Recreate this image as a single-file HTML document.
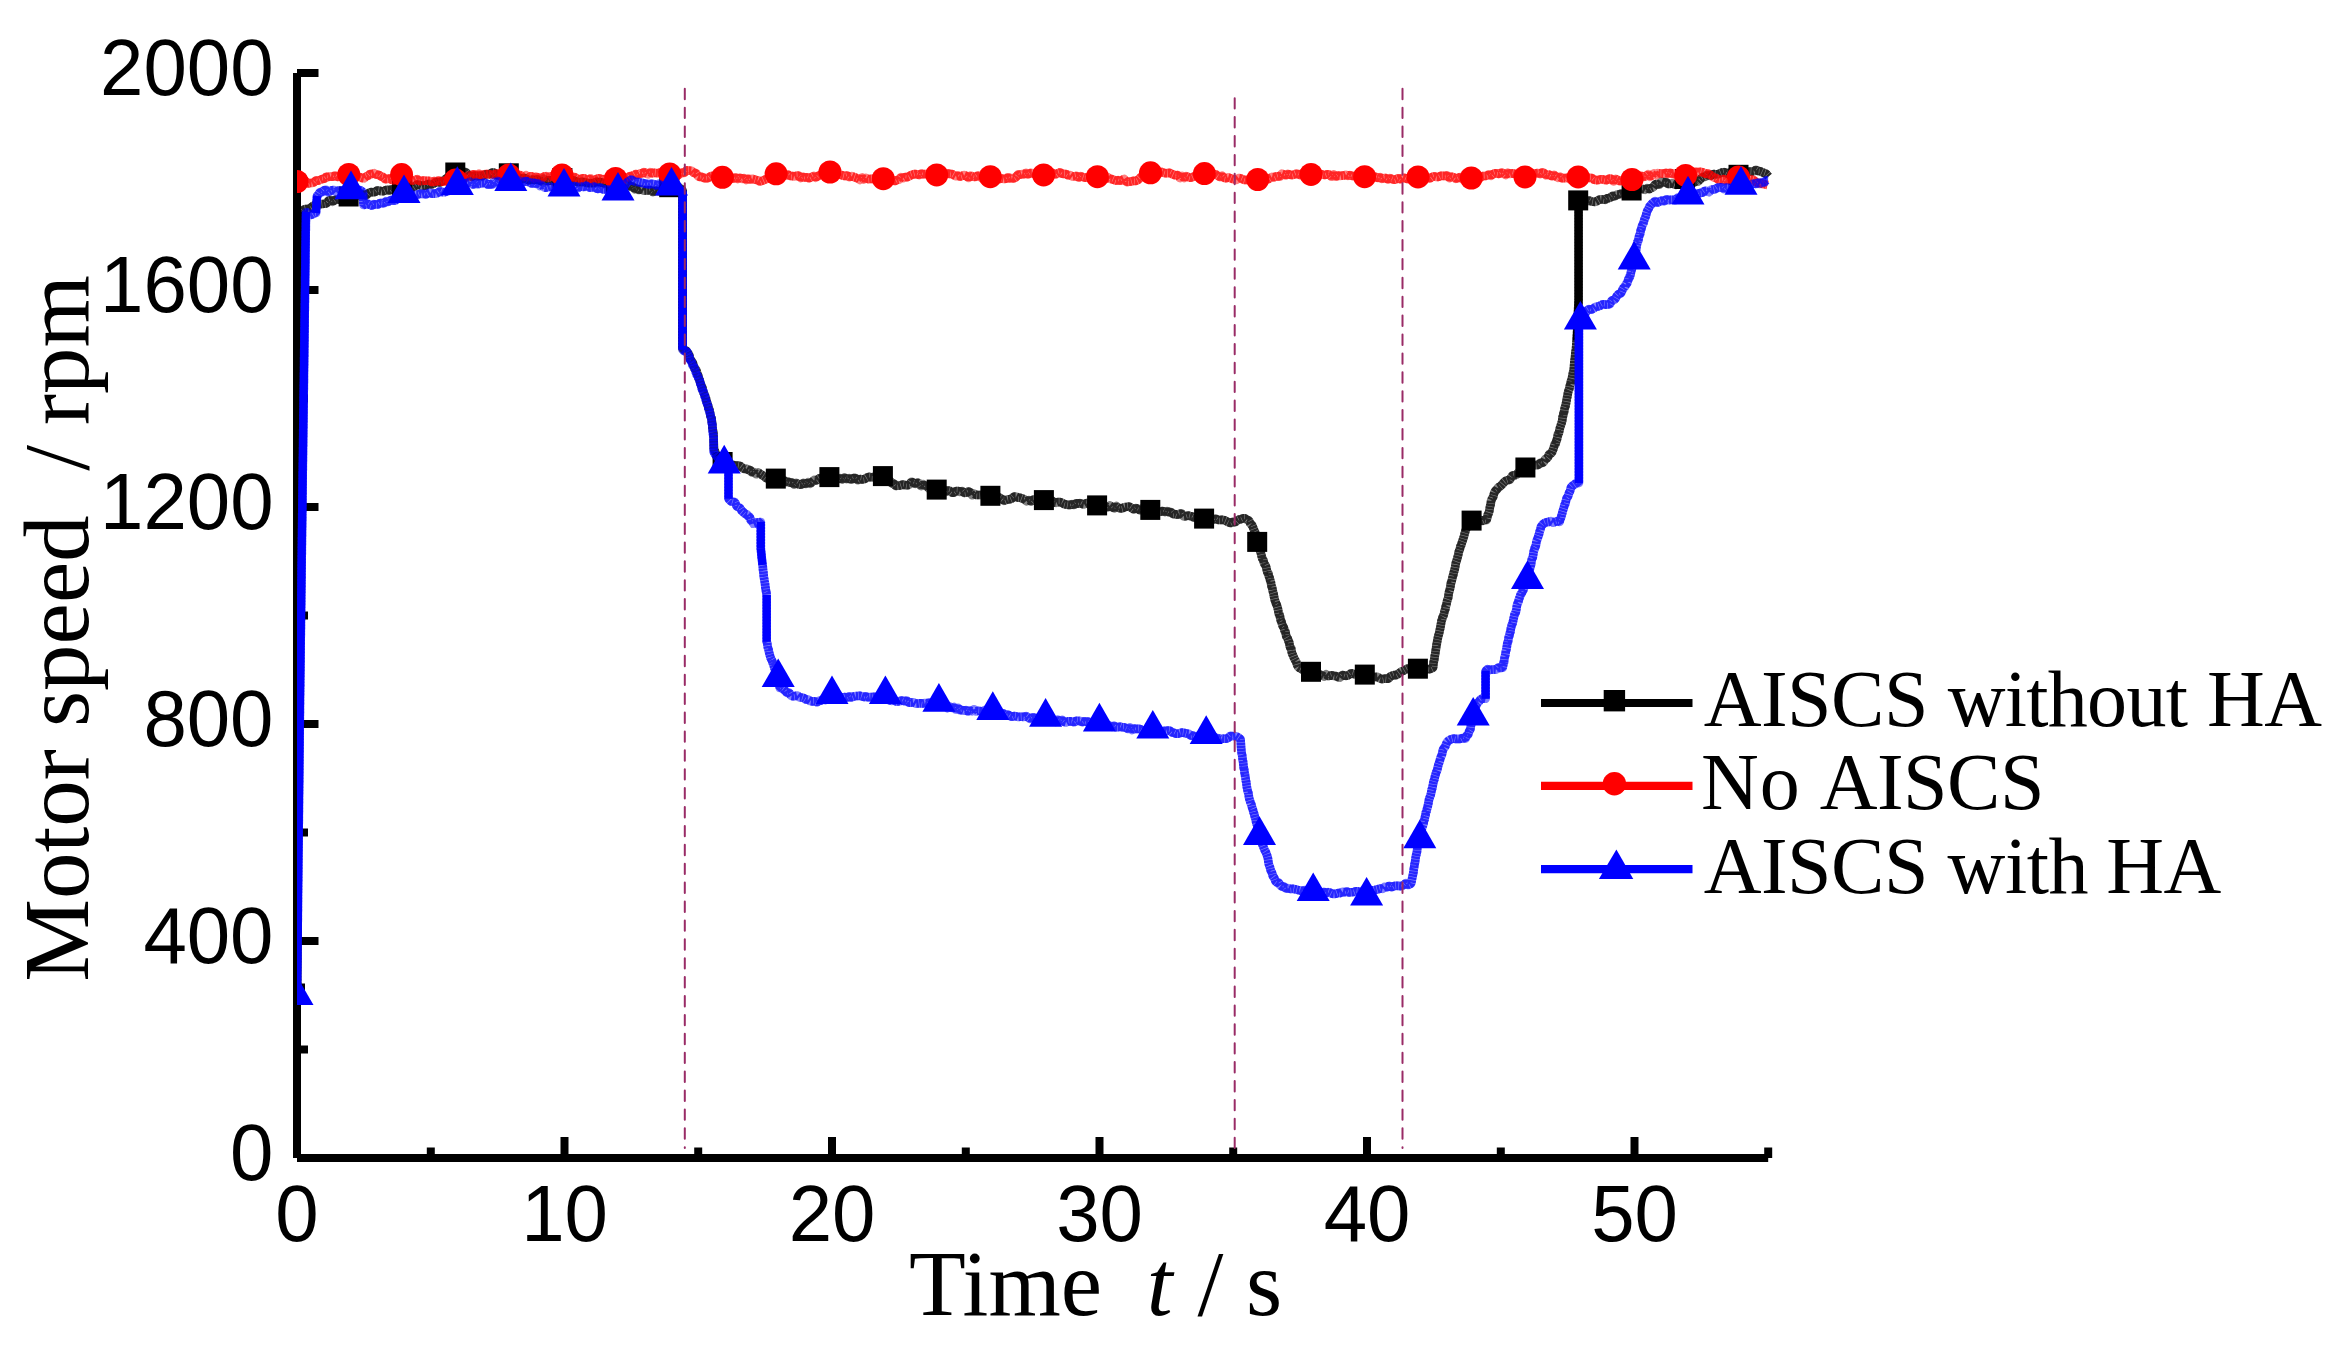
<!DOCTYPE html>
<html lang="en"><head><meta charset="utf-8"><title>Motor speed vs time</title>
<style>
html,body{margin:0;padding:0;background:#fff;}
body{width:2340px;height:1352px;overflow:hidden;}
svg{display:block;}
.tk{font-family:"Liberation Sans",sans-serif;font-size:78px;fill:#000;}
.ax{font-family:"Liberation Serif",serif;font-size:93px;fill:#000;white-space:pre;}
.lg{font-family:"Liberation Serif",serif;font-size:80px;fill:#000;}
</style></head><body>
<svg width="2340" height="1352" viewBox="0 0 2340 1352">
<rect x="0" y="0" width="2340" height="1352" fill="#fff"/>
<defs><clipPath id="plot"><rect x="297" y="60" width="1480" height="1098"/></clipPath></defs>
<g stroke="#000" stroke-width="8" fill="none" stroke-linecap="butt">
<line x1="297" y1="73.0" x2="297" y2="1158"/>
<line x1="297" y1="1158" x2="1768.2" y2="1158"/>
<line x1="297" y1="1049.5" x2="308" y2="1049.5"/>
<line x1="297" y1="941.0" x2="318.5" y2="941.0"/>
<line x1="297" y1="832.5" x2="308" y2="832.5"/>
<line x1="297" y1="724.0" x2="318.5" y2="724.0"/>
<line x1="297" y1="615.5" x2="308" y2="615.5"/>
<line x1="297" y1="507.0" x2="318.5" y2="507.0"/>
<line x1="297" y1="398.5" x2="308" y2="398.5"/>
<line x1="297" y1="290.0" x2="318.5" y2="290.0"/>
<line x1="297" y1="181.5" x2="308" y2="181.5"/>
<line x1="297" y1="73.0" x2="318.5" y2="73.0"/>
<line x1="430.8" y1="1158" x2="430.8" y2="1147.5"/>
<line x1="564.5" y1="1158" x2="564.5" y2="1137"/>
<line x1="698.2" y1="1158" x2="698.2" y2="1147.5"/>
<line x1="832.0" y1="1158" x2="832.0" y2="1137"/>
<line x1="965.8" y1="1158" x2="965.8" y2="1147.5"/>
<line x1="1099.5" y1="1158" x2="1099.5" y2="1137"/>
<line x1="1233.2" y1="1158" x2="1233.2" y2="1147.5"/>
<line x1="1367.0" y1="1158" x2="1367.0" y2="1137"/>
<line x1="1500.8" y1="1158" x2="1500.8" y2="1147.5"/>
<line x1="1634.5" y1="1158" x2="1634.5" y2="1137"/>
<line x1="1768.2" y1="1158" x2="1768.2" y2="1147.5"/>
</g>
<g clip-path="url(#plot)">
<polyline fill="none" stroke="#000" stroke-opacity="0.5" stroke-width="8.6" stroke-linejoin="round" points="297.0,993.0 297.0,991.0 297.0,989.0 297.0,987.0 297.0,985.0 297.1,983.0 297.1,981.0 297.1,979.0 297.1,976.9 297.1,974.9 297.1,972.9 297.1,970.9 297.1,968.9 297.1,966.9 297.1,964.9 297.2,962.9 297.2,960.9 297.2,958.9 297.2,956.9 297.2,954.9 297.2,952.9 297.2,950.9 297.2,948.8 297.2,946.8 297.2,944.8 297.3,942.8 297.3,940.8 297.3,938.8 297.3,936.8 297.3,934.8 297.3,932.8 297.3,930.8 297.3,928.8 297.3,926.8 297.3,924.8 297.4,922.8 297.4,920.8 297.4,918.7 297.4,916.7 297.4,914.7 297.4,912.7 297.4,910.7 297.4,908.7 297.4,906.7 297.5,904.7 297.5,902.7 297.5,900.7 297.5,898.7 297.5,896.7 297.5,894.7 297.5,892.7 297.5,890.7 297.5,888.6 297.5,886.6 297.6,884.6 297.6,882.6 297.6,880.6 297.6,878.6 297.6,876.6 297.6,874.6 297.6,872.6 297.6,870.6 297.6,868.6 297.6,866.6 297.7,864.6 297.7,862.6 297.7,860.5 297.7,858.5 297.7,856.5 297.7,854.5 297.7,852.5 297.7,850.5 297.7,848.5 297.8,846.5 297.8,844.5 297.8,842.5 297.8,840.5 297.8,838.5 297.8,836.5 297.8,834.5 297.8,832.5 297.8,830.4 297.8,828.4 297.9,826.4 297.9,824.4 297.9,822.4 297.9,820.4 297.9,818.4 297.9,816.4 297.9,814.4 297.9,812.4 297.9,810.4 297.9,808.4 298.0,806.4 298.0,804.4 298.0,802.3 298.0,800.3 298.0,798.3 298.0,796.3 298.0,794.3 298.0,792.3 298.0,790.3 298.0,788.3 298.1,786.3 298.1,784.3 298.1,782.3 298.1,780.3 298.1,778.3 298.1,776.3 298.1,774.3 298.1,772.2 298.1,770.2 298.2,768.2 298.2,766.2 298.2,764.2 298.2,762.2 298.2,760.2 298.2,758.2 298.2,756.2 298.2,754.2 298.2,752.2 298.2,750.2 298.3,748.2 298.3,746.2 298.3,744.2 298.3,742.1 298.3,740.1 298.3,738.1 298.3,736.1 298.3,734.1 298.3,732.1 298.3,730.1 298.4,728.1 298.4,726.1 298.4,724.1 298.4,722.1 298.4,720.1 298.4,718.1 298.4,716.1 298.4,714.0 298.4,712.0 298.4,710.0 298.5,708.0 298.5,706.0 298.5,704.0 298.5,702.0 298.5,700.0 298.5,698.0 298.5,696.0 298.5,694.0 298.5,692.0 298.6,690.0 298.6,688.0 298.6,686.0 298.6,684.0 298.6,682.0 298.6,680.0 298.6,678.0 298.6,676.0 298.6,674.0 298.6,672.0 298.6,670.0 298.7,668.0 298.7,666.0 298.7,664.0 298.7,662.0 298.7,660.0 298.7,658.0 298.7,656.0 298.7,654.0 298.7,652.0 298.8,650.0 298.8,648.0 298.8,646.0 298.8,644.0 298.8,642.0 298.8,640.0 298.8,638.0 298.8,636.0 298.8,634.0 298.8,632.0 298.9,630.0 298.9,628.0 298.9,626.0 298.9,624.0 298.9,622.0 298.9,620.0 298.9,618.0 298.9,616.0 298.9,614.0 298.9,612.0 298.9,610.0 299.0,608.0 299.0,606.0 299.0,604.0 299.0,602.0 299.0,600.0 299.0,598.0 299.0,596.0 299.0,594.0 299.0,592.0 299.1,590.0 299.1,588.0 299.1,586.0 299.1,584.0 299.1,582.0 299.1,580.0 299.1,578.0 299.1,576.0 299.1,574.0 299.1,572.0 299.1,570.0 299.2,568.0 299.2,566.0 299.2,564.0 299.2,562.0 299.2,560.0 299.2,558.0 299.2,556.0 299.2,554.0 299.2,552.0 299.2,550.0 299.3,548.0 299.3,546.0 299.3,544.0 299.3,542.0 299.3,540.0 299.3,538.0 299.3,536.0 299.3,534.0 299.3,532.0 299.4,530.0 299.4,528.0 299.4,526.0 299.4,524.0 299.4,522.0 299.4,520.0 299.4,518.0 299.4,516.0 299.4,514.0 299.4,512.0 299.4,510.0 299.5,508.0 299.5,506.0 299.5,504.0 299.5,502.0 299.5,500.0 299.5,498.0 299.5,496.0 299.5,494.0 299.5,492.0 299.6,490.0 299.6,488.0 299.6,486.0 299.6,484.0 299.6,482.0 299.6,480.0 299.6,478.0 299.6,476.0 299.6,474.0 299.6,472.0 299.6,470.0 299.7,468.0 299.7,466.0 299.7,464.0 299.7,462.0 299.7,460.0 299.7,458.0 299.7,456.0 299.7,454.0 299.7,452.0 299.8,450.0 299.8,448.0 299.8,446.0 299.8,444.0 299.8,442.0 299.8,440.0 299.8,438.0 299.8,436.0 299.8,434.0 299.8,432.0 299.9,430.0 299.9,428.0 299.9,426.0 299.9,424.0 299.9,422.0 299.9,420.0 299.9,418.0 299.9,416.0 299.9,414.0 299.9,412.0 299.9,410.0 300.0,408.0 300.0,406.0 300.0,404.0 300.0,402.0 300.0,400.0 300.0,398.0 300.0,396.0 300.1,394.0 300.1,392.0 300.1,390.0 300.1,388.0 300.1,386.0 300.1,384.0 300.2,382.0 300.2,380.0 300.2,378.0 300.2,376.0 300.2,374.0 300.2,372.0 300.3,370.0 300.3,368.0 300.3,366.0 300.3,364.0 300.3,362.0 300.4,360.0 300.4,358.0 300.4,356.0 300.4,354.0 300.4,352.0 300.4,350.0 300.5,348.0 300.5,346.0 300.5,344.0 300.5,342.0 300.5,340.0 300.6,338.0 300.6,336.0 300.6,334.0 300.6,332.0 300.6,330.0 300.6,328.0 300.7,326.0 300.7,324.0 300.7,322.0 300.7,320.0 300.7,318.0 300.8,316.0 300.8,314.0 300.8,312.0 300.8,310.0 300.8,308.0 300.8,306.0 300.9,304.0 300.9,302.0 300.9,300.0 300.9,298.0 300.9,296.0 300.9,294.0 301.0,292.0 301.0,290.0 301.0,288.0 301.0,286.0 301.0,284.0 301.1,282.0 301.1,280.0 301.1,278.0 301.1,276.0 301.1,274.0 301.1,272.0 301.2,270.0 301.2,268.0 301.2,266.0 301.2,264.0 301.2,262.0 301.2,260.0 301.3,258.0 301.3,256.0 301.3,254.0 301.3,252.0 301.3,250.0 301.4,248.0 301.4,246.0 301.4,244.0 301.4,242.0 301.4,240.0 301.4,238.0 301.5,236.0 301.5,234.0 301.5,232.0 301.6,230.0 301.6,228.0 301.6,226.0 301.7,224.0 301.8,222.0 301.8,220.0 301.9,218.0 301.9,216.0 301.9,214.0 302.0,212.0 304.0,209.4 306.0,209.0 308.3,209.0 310.7,207.8 313.0,206.0 315.2,204.8 317.5,205.0 319.8,204.3 322.0,204.0 324.2,203.8 326.3,203.5 328.5,200.8 330.7,199.9 332.8,201.7 335.0,200.0 337.3,199.3 339.5,199.8 341.8,197.0 344.1,197.8 346.3,198.2 348.6,197.0 350.8,195.9 353.1,197.7 355.3,197.2 357.5,194.3 359.8,193.9 362.0,195.0 364.2,194.6 366.3,195.3 368.5,193.1 370.7,192.1 372.8,192.3 375.0,192.0 377.1,190.4 379.3,190.7 381.4,191.2 383.6,191.1 385.7,190.1 387.9,189.9 390.0,190.5 392.0,189.2 394.0,189.5 396.0,188.6 398.0,187.4 400.0,189.4 402.0,188.0 404.2,187.8 406.3,187.8 408.5,186.1 410.7,188.1 412.8,187.4 415.0,186.0 417.1,184.6 419.3,184.9 421.4,185.8 423.6,185.5 425.7,185.9 427.9,184.1 430.0,184.0 432.0,184.5 434.0,183.5 436.0,181.9 438.0,182.3 440.0,182.6 442.0,181.0 444.0,180.8 446.0,178.5 448.0,177.5 450.0,176.0 451.8,173.6 453.5,173.2 455.3,173.0 457.4,173.7 459.6,172.3 461.7,171.4 463.9,172.3 466.0,172.0 468.0,174.6 470.0,176.0 472.0,176.5 474.0,175.6 476.0,175.8 478.0,176.0 480.0,175.7 482.0,176.2 484.0,175.1 486.0,174.3 488.0,174.3 490.0,174.0 492.0,172.6 494.0,172.6 496.0,174.6 498.0,175.4 500.0,174.0 502.2,174.3 504.4,173.7 506.6,173.0 508.8,174.0 511.0,174.8 513.3,177.0 515.5,177.2 517.8,177.3 520.0,178.0 522.1,179.4 524.3,177.8 526.4,178.9 528.6,180.5 530.7,179.7 532.9,179.6 535.0,180.0 537.1,179.3 539.3,180.1 541.4,181.4 543.6,178.5 545.7,180.9 547.9,181.0 550.0,180.0 552.1,181.0 554.1,180.4 556.2,180.4 558.3,179.4 560.3,179.4 562.4,179.0 564.6,179.2 566.9,178.5 569.1,181.4 571.3,180.9 573.5,180.2 575.8,181.6 578.0,182.0 580.0,182.1 582.0,181.9 584.0,182.0 586.0,182.7 588.0,183.1 590.0,183.2 592.0,183.0 594.2,182.9 596.3,181.6 598.5,182.2 600.7,182.0 602.8,183.3 605.0,183.0 607.2,184.2 609.3,184.1 611.5,184.2 613.6,184.3 615.8,183.5 618.1,183.1 620.4,185.3 622.7,185.1 625.0,185.0 627.0,184.4 629.0,184.9 631.0,187.0 633.0,186.3 635.0,189.3 637.0,188.5 639.0,190.0 641.3,189.0 643.7,190.7 646.0,190.5 648.3,190.5 650.7,190.2 653.0,192.0 655.3,190.6 657.7,191.4 660.0,191.0 662.3,189.4 664.6,189.1 666.9,189.8 669.2,188.5 671.4,188.3 673.5,187.8 675.7,188.1 677.8,186.7 680.0,188.0 682.5,190.0 682.5,192.0 682.5,194.0 682.5,196.0 682.5,198.1 682.5,200.1 682.5,202.1 682.5,204.1 682.5,206.1 682.5,208.1 682.5,210.1 682.5,212.1 682.5,214.2 682.5,216.2 682.5,218.2 682.5,220.2 682.5,222.2 682.5,224.2 682.5,226.2 682.5,228.2 682.5,230.3 682.5,232.3 682.5,234.3 682.5,236.3 682.5,238.3 682.5,240.3 682.5,242.3 682.5,244.3 682.5,246.4 682.5,248.4 682.5,250.4 682.5,252.4 682.5,254.4 682.5,256.4 682.5,258.4 682.5,260.4 682.5,262.5 682.5,264.5 682.5,266.5 682.5,268.5 682.5,270.5 682.5,272.5 682.5,274.5 682.5,276.5 682.5,278.6 682.5,280.6 682.5,282.6 682.5,284.6 682.5,286.6 682.5,288.6 682.5,290.6 682.5,292.6 682.5,294.7 682.5,296.7 682.5,298.7 682.5,300.7 682.5,302.7 682.5,304.7 682.5,306.7 682.5,308.7 682.5,310.8 682.5,312.8 682.5,314.8 682.5,316.8 682.5,318.8 682.5,320.8 682.5,322.8 682.5,324.8 682.5,326.9 682.5,328.9 682.5,330.9 682.5,332.9 682.5,334.9 682.5,336.9 682.5,338.9 682.5,340.9 682.5,343.0 682.5,345.0 682.5,347.0 682.5,349.0 684.5,349.7 686.6,351.0 687.5,352.6 688.4,353.7 689.3,355.3 690.2,359.5 691.1,360.2 692.0,362.0 692.9,363.2 693.8,366.5 694.8,369.3 695.7,369.0 696.6,371.1 697.5,374.6 698.2,375.5 698.9,379.2 699.6,379.5 700.3,383.1 701.0,385.0 701.7,386.6 702.4,387.6 703.1,391.8 703.8,393.2 704.5,394.4 705.2,396.3 705.8,397.4 706.3,400.7 706.9,401.9 707.5,404.4 708.1,405.6 708.6,408.5 709.2,408.8 709.8,411.5 710.4,415.5 710.9,417.2 711.5,418.0 711.7,419.5 712.0,423.2 712.2,423.7 712.4,427.6 712.7,429.1 712.9,430.2 713.1,431.8 713.4,433.1 713.6,436.7 713.7,440.1 713.7,439.7 713.8,444.3 713.9,447.0 713.9,448.0 714.0,450.0 715.0,451.0 716.0,455.1 717.0,457.4 718.0,458.0 719.5,459.9 721.1,460.7 722.6,462.0 724.7,462.2 726.8,462.7 728.8,462.9 730.9,464.9 733.0,465.0 735.4,465.5 737.8,465.5 740.1,465.9 742.5,467.8 744.4,469.0 746.3,468.6 748.2,469.9 750.2,470.1 752.1,472.4 754.0,472.0 756.1,474.1 758.1,472.4 760.2,473.8 762.2,475.1 764.3,476.5 766.6,478.4 768.9,478.2 771.2,477.3 773.5,477.3 775.8,478.6 777.8,479.6 779.9,480.6 781.9,481.3 783.9,480.1 786.0,482.2 788.0,481.5 790.1,482.6 792.2,482.5 794.2,484.6 796.3,482.9 798.4,484.2 800.9,484.8 803.5,482.8 806.0,484.0 808.1,482.2 810.3,483.7 812.4,481.7 814.3,479.9 816.2,480.6 818.1,479.2 820.0,478.0 822.4,478.8 824.7,477.2 827.0,476.8 829.4,477.1 831.5,476.7 833.6,478.6 835.8,478.0 837.9,479.2 840.0,478.0 842.2,479.5 844.5,477.5 846.7,479.1 849.0,478.1 851.2,479.6 853.4,478.1 855.6,478.0 857.8,480.2 860.0,479.0 862.3,479.4 864.5,479.1 866.8,477.7 868.8,476.8 870.9,477.2 873.0,477.3 875.0,476.0 877.6,475.7 880.3,476.3 882.9,476.1 884.7,476.5 886.5,477.3 888.2,479.1 890.0,481.0 892.0,483.4 893.9,483.6 895.8,485.9 897.8,485.8 900.2,485.4 902.6,484.6 905.0,485.0 907.1,485.3 909.2,484.8 911.3,481.8 913.4,482.7 915.3,483.8 917.3,482.6 919.2,483.2 921.1,486.1 923.1,484.1 925.0,486.0 927.0,485.8 928.9,488.7 930.9,487.6 932.8,487.2 934.8,488.0 936.7,489.6 938.9,489.1 941.1,490.8 943.4,489.1 945.6,491.8 947.8,490.4 950.0,491.0 952.0,492.6 954.0,492.6 956.1,491.0 958.1,491.1 960.1,491.9 962.2,491.0 964.2,492.9 966.2,492.6 968.2,491.6 970.1,491.9 972.1,495.2 974.1,493.6 976.0,494.9 978.0,495.0 980.1,495.0 982.1,494.7 984.2,494.1 986.3,496.8 988.3,497.1 990.4,495.8 992.8,497.8 995.2,495.7 997.6,496.6 1000.0,498.0 1002.0,499.0 1004.0,500.8 1006.0,500.0 1008.0,499.4 1010.0,499.2 1012.0,498.4 1014.0,496.5 1016.0,496.5 1018.1,497.6 1020.2,497.8 1022.3,498.6 1024.4,499.1 1026.5,501.3 1028.8,500.0 1031.0,501.6 1033.3,499.5 1035.4,499.5 1037.5,500.2 1039.7,500.3 1041.8,501.3 1043.9,500.1 1045.9,500.0 1047.9,500.1 1049.9,500.4 1052.0,500.6 1054.0,502.5 1056.0,502.9 1058.0,502.0 1060.0,502.0 1062.0,502.8 1064.0,504.0 1066.0,504.5 1068.0,504.9 1070.0,505.0 1072.0,504.1 1074.0,505.0 1076.0,503.3 1078.0,503.7 1080.0,503.0 1082.0,504.0 1084.2,504.4 1086.3,503.1 1088.5,503.3 1090.6,505.2 1092.8,504.4 1094.9,506.1 1097.1,505.4 1099.2,505.6 1101.4,506.9 1103.5,505.0 1105.6,506.3 1107.7,507.4 1109.9,505.5 1112.0,507.0 1114.2,508.3 1116.3,506.0 1118.5,507.8 1120.7,508.5 1122.8,508.0 1125.0,507.0 1127.2,506.8 1129.3,506.5 1131.5,508.0 1133.7,509.6 1135.8,508.0 1138.0,509.0 1140.0,510.3 1142.1,508.2 1144.2,510.7 1146.2,508.2 1148.2,509.2 1150.3,509.9 1152.4,511.3 1154.5,511.2 1156.7,511.7 1158.8,511.7 1160.9,511.6 1163.0,511.0 1165.0,512.1 1167.0,511.0 1169.0,512.3 1171.0,512.0 1173.0,514.1 1175.0,514.0 1177.2,514.8 1179.3,513.8 1181.5,513.4 1183.7,516.4 1185.8,516.2 1188.0,515.5 1190.0,516.0 1192.0,516.4 1194.0,517.7 1196.0,516.9 1198.1,517.1 1200.1,517.3 1202.1,517.5 1204.1,518.6 1206.4,517.4 1208.7,519.5 1211.0,519.1 1213.4,519.7 1215.7,518.5 1218.0,520.0 1220.0,520.0 1222.0,519.7 1224.0,520.1 1226.0,520.9 1228.0,522.0 1230.4,523.1 1232.7,521.9 1235.1,522.3 1237.0,520.6 1239.0,519.5 1241.0,519.2 1242.9,518.3 1245.0,518.4 1247.0,520.0 1248.7,520.3 1250.5,523.7 1252.2,525.4 1253.1,527.6 1254.1,530.2 1255.0,532.0 1255.4,533.8 1255.9,536.5 1256.3,538.6 1256.8,539.1 1257.2,541.9 1257.9,543.9 1258.5,545.9 1259.2,547.1 1259.8,549.7 1260.5,552.0 1261.2,554.2 1261.9,557.3 1262.5,559.4 1263.2,559.5 1263.9,562.7 1264.6,564.3 1265.3,564.9 1266.1,566.8 1266.8,570.1 1267.5,573.1 1268.2,572.8 1269.0,576.6 1269.7,577.7 1270.2,580.8 1270.7,581.1 1271.2,584.2 1271.6,586.7 1272.1,587.2 1272.6,590.2 1273.1,592.3 1273.6,593.9 1274.0,596.6 1274.5,598.7 1275.0,600.9 1275.5,601.5 1276.1,603.8 1276.7,604.7 1277.3,607.0 1277.9,608.9 1278.5,612.1 1279.1,614.7 1279.7,614.7 1280.3,618.6 1280.9,620.8 1281.5,621.8 1282.1,624.3 1282.9,626.4 1283.8,627.4 1284.6,631.2 1285.4,631.2 1286.2,636.1 1287.1,637.7 1287.9,638.8 1288.5,641.2 1289.2,642.2 1289.8,646.2 1290.5,648.4 1291.1,648.0 1291.7,652.0 1292.4,654.3 1293.0,655.3 1294.0,657.9 1295.1,660.1 1296.1,661.4 1297.1,664.9 1298.2,667.1 1299.2,667.8 1301.6,669.0 1304.0,671.0 1306.3,672.2 1308.7,671.3 1311.0,671.8 1313.2,671.4 1315.4,672.6 1317.6,672.6 1319.8,675.6 1322.0,675.0 1324.0,676.6 1326.0,674.4 1328.0,676.1 1330.0,675.8 1332.0,675.2 1334.0,676.0 1336.0,676.1 1338.0,677.1 1340.0,677.6 1342.0,675.1 1344.0,675.3 1346.0,676.0 1348.5,675.1 1351.1,673.2 1353.6,674.0 1355.8,674.5 1358.1,674.6 1360.3,675.4 1362.6,673.6 1364.8,674.6 1366.8,674.4 1368.9,675.7 1370.9,675.4 1373.0,676.8 1375.0,677.0 1377.4,676.7 1379.8,678.4 1382.2,679.1 1384.6,678.6 1386.5,678.8 1388.4,678.6 1390.2,676.6 1392.1,675.7 1394.0,675.0 1395.9,675.2 1397.7,674.2 1399.6,672.8 1401.4,671.4 1403.3,670.9 1405.5,669.6 1407.8,668.5 1410.0,669.0 1412.6,669.8 1415.3,667.7 1417.9,668.7 1420.2,669.5 1422.5,669.0 1424.7,670.3 1427.0,669.0 1429.9,669.2 1432.8,667.8 1433.2,667.1 1433.5,662.4 1433.9,661.4 1434.3,659.5 1434.6,656.6 1435.0,655.0 1435.4,652.8 1435.7,650.2 1436.1,648.6 1436.4,644.8 1436.8,644.0 1437.1,641.8 1437.5,639.8 1438.0,637.2 1438.4,635.5 1438.8,634.7 1439.3,632.4 1439.8,629.9 1440.2,628.4 1440.7,625.6 1441.1,623.1 1441.5,620.5 1442.0,620.0 1442.5,617.4 1443.1,616.4 1443.6,615.3 1444.1,613.2 1444.7,610.3 1445.2,609.8 1445.7,606.3 1446.3,605.4 1446.8,602.5 1447.3,600.2 1447.7,599.1 1448.2,597.8 1448.7,593.7 1449.2,591.3 1449.6,590.6 1450.1,588.2 1450.6,585.7 1451.0,582.6 1451.5,582.0 1452.0,579.7 1452.4,577.8 1452.9,575.7 1453.3,575.1 1453.8,572.3 1454.3,570.8 1454.7,569.3 1455.2,566.8 1455.6,564.1 1456.1,562.1 1456.6,560.8 1457.2,558.5 1457.8,556.5 1458.3,554.4 1458.8,551.8 1459.4,550.4 1460.0,548.4 1460.5,546.0 1461.2,545.2 1461.9,542.6 1462.6,540.7 1463.3,538.3 1464.0,536.3 1464.7,533.5 1465.4,531.1 1466.4,528.3 1467.5,525.7 1468.5,524.0 1470.0,522.9 1471.6,520.6 1473.7,521.6 1475.8,520.4 1477.9,519.1 1480.0,520.0 1482.2,521.0 1484.4,520.0 1486.6,520.0 1487.2,517.9 1487.8,514.6 1488.4,514.0 1489.0,512.0 1489.4,510.7 1489.8,507.8 1490.2,505.6 1490.7,504.5 1491.1,500.6 1491.5,500.0 1492.2,498.1 1493.0,497.5 1493.7,494.9 1494.4,492.4 1495.6,490.5 1496.8,489.7 1498.0,487.5 1500.0,486.4 1502.1,484.6 1504.1,482.2 1506.0,480.7 1508.0,480.0 1509.7,480.0 1511.3,477.0 1512.9,475.2 1514.6,475.3 1516.4,474.9 1518.2,472.5 1520.0,471.0 1521.8,469.4 1523.6,468.7 1525.4,467.5 1527.6,467.6 1529.7,465.3 1531.8,466.1 1534.0,465.0 1536.1,465.1 1538.2,464.9 1540.4,462.7 1542.5,462.9 1543.9,461.8 1545.2,459.1 1546.6,458.7 1548.0,457.0 1549.3,454.0 1550.7,453.8 1552.1,452.0 1553.4,448.9 1554.1,446.4 1554.8,444.1 1555.5,444.3 1556.1,441.6 1556.8,440.0 1557.5,437.0 1558.1,433.4 1558.7,433.9 1559.3,430.9 1560.0,427.8 1560.6,426.0 1561.2,424.1 1561.7,422.7 1562.2,420.7 1562.6,416.8 1563.1,415.9 1563.6,412.4 1564.0,412.7 1564.5,409.0 1565.0,407.0 1565.5,406.1 1566.0,403.4 1566.5,400.9 1567.0,397.7 1567.4,396.4 1567.9,393.1 1568.4,391.0 1568.9,389.9 1569.4,388.5 1569.9,385.3 1570.5,384.4 1571.0,380.8 1571.5,380.2 1572.0,378.1 1572.6,374.8 1573.1,372.1 1573.6,371.2 1573.8,368.8 1574.0,367.0 1574.2,363.8 1574.4,362.0 1574.6,359.5 1574.8,359.1 1575.0,357.9 1575.3,353.8 1575.5,351.2 1575.7,351.1 1575.9,349.4 1576.1,347.8 1576.3,344.7 1576.5,341.8 1576.7,340.2 1576.8,338.2 1576.9,336.2 1577.0,334.2 1577.1,332.2 1577.2,330.1 1577.3,328.1 1577.4,326.1 1577.5,324.1 1577.6,322.1 1577.7,320.1 1577.7,318.1 1577.8,316.1 1577.9,314.1 1578.0,312.1 1578.1,310.1 1578.2,308.0 1578.3,306.0 1578.4,304.0 1578.5,302.0 1578.6,300.0 1578.6,298.0 1578.6,295.9 1578.6,293.9 1578.6,291.9 1578.6,289.8 1578.6,287.8 1578.6,285.8 1578.6,283.7 1578.6,281.7 1578.6,279.7 1578.6,277.6 1578.6,275.6 1578.6,273.6 1578.6,271.5 1578.6,269.5 1578.6,267.5 1578.6,265.4 1578.6,263.4 1578.6,261.4 1578.6,259.3 1578.6,257.3 1578.6,255.3 1578.6,253.2 1578.6,251.2 1578.6,249.2 1578.6,247.2 1578.6,245.1 1578.6,243.1 1578.6,241.1 1578.6,239.0 1578.6,237.0 1578.6,235.0 1578.6,232.9 1578.6,230.9 1578.6,228.9 1578.6,226.8 1578.6,224.8 1578.6,222.8 1578.6,220.7 1578.6,218.7 1578.6,216.7 1578.6,214.6 1578.6,212.6 1578.6,210.6 1578.6,208.5 1578.6,206.5 1578.6,204.5 1578.6,202.4 1578.6,200.4 1580.7,201.7 1582.8,199.8 1584.9,201.8 1587.0,201.5 1589.1,200.4 1591.2,201.4 1593.2,201.8 1595.3,201.9 1597.2,200.9 1599.2,199.7 1601.1,199.3 1603.0,199.5 1605.0,199.9 1607.0,198.3 1608.9,198.1 1610.9,197.3 1612.9,195.7 1614.9,196.4 1617.0,194.5 1619.0,194.5 1621.0,193.5 1623.1,194.2 1625.2,194.0 1627.4,190.6 1629.5,192.4 1631.6,191.0 1633.9,191.6 1636.3,189.5 1638.7,189.1 1641.0,189.0 1643.0,189.0 1645.1,189.9 1647.1,188.1 1649.2,189.3 1651.2,188.0 1653.1,187.4 1655.1,184.3 1657.0,184.0 1659.2,184.7 1661.5,181.5 1663.7,182.4 1665.8,181.9 1667.9,184.0 1670.0,184.0 1672.0,183.0 1674.1,184.2 1676.1,184.9 1678.3,183.4 1680.5,184.0 1682.6,184.8 1684.8,184.6 1687.0,183.0 1689.2,181.3 1691.3,181.2 1693.5,183.2 1695.6,180.6 1697.8,181.7 1699.6,179.8 1701.4,178.2 1703.2,176.9 1705.0,177.0 1707.1,174.8 1709.2,175.9 1711.3,175.5 1713.4,174.0 1715.6,174.2 1717.7,174.3 1719.8,173.4 1722.0,172.5 1724.0,172.1 1726.0,172.8 1728.0,173.8 1730.0,172.3 1732.1,172.8 1734.2,171.6 1736.4,171.1 1738.5,172.5 1740.8,173.6 1743.1,172.4 1745.4,171.4 1747.7,172.0 1750.0,171.5 1752.0,171.6 1754.0,171.3 1756.0,169.8 1758.0,171.0 1760.0,171.2 1762.0,172.1 1764.0,173.0 1766.2,173.8 1768.5,176.5"/>
<polyline fill="none" stroke="#000" stroke-opacity="0.7" stroke-width="8.6" stroke-linejoin="bevel" stroke-dasharray="2.4 0.6" points="297.0,993.0 297.0,991.0 297.0,989.0 297.0,987.0 297.0,985.0 297.1,983.0 297.1,981.0 297.1,979.0 297.1,976.9 297.1,974.9 297.1,972.9 297.1,970.9 297.1,968.9 297.1,966.9 297.1,964.9 297.2,962.9 297.2,960.9 297.2,958.9 297.2,956.9 297.2,954.9 297.2,952.9 297.2,950.9 297.2,948.8 297.2,946.8 297.2,944.8 297.3,942.8 297.3,940.8 297.3,938.8 297.3,936.8 297.3,934.8 297.3,932.8 297.3,930.8 297.3,928.8 297.3,926.8 297.3,924.8 297.4,922.8 297.4,920.8 297.4,918.7 297.4,916.7 297.4,914.7 297.4,912.7 297.4,910.7 297.4,908.7 297.4,906.7 297.5,904.7 297.5,902.7 297.5,900.7 297.5,898.7 297.5,896.7 297.5,894.7 297.5,892.7 297.5,890.7 297.5,888.6 297.5,886.6 297.6,884.6 297.6,882.6 297.6,880.6 297.6,878.6 297.6,876.6 297.6,874.6 297.6,872.6 297.6,870.6 297.6,868.6 297.6,866.6 297.7,864.6 297.7,862.6 297.7,860.5 297.7,858.5 297.7,856.5 297.7,854.5 297.7,852.5 297.7,850.5 297.7,848.5 297.8,846.5 297.8,844.5 297.8,842.5 297.8,840.5 297.8,838.5 297.8,836.5 297.8,834.5 297.8,832.5 297.8,830.4 297.8,828.4 297.9,826.4 297.9,824.4 297.9,822.4 297.9,820.4 297.9,818.4 297.9,816.4 297.9,814.4 297.9,812.4 297.9,810.4 297.9,808.4 298.0,806.4 298.0,804.4 298.0,802.3 298.0,800.3 298.0,798.3 298.0,796.3 298.0,794.3 298.0,792.3 298.0,790.3 298.0,788.3 298.1,786.3 298.1,784.3 298.1,782.3 298.1,780.3 298.1,778.3 298.1,776.3 298.1,774.3 298.1,772.2 298.1,770.2 298.2,768.2 298.2,766.2 298.2,764.2 298.2,762.2 298.2,760.2 298.2,758.2 298.2,756.2 298.2,754.2 298.2,752.2 298.2,750.2 298.3,748.2 298.3,746.2 298.3,744.2 298.3,742.1 298.3,740.1 298.3,738.1 298.3,736.1 298.3,734.1 298.3,732.1 298.3,730.1 298.4,728.1 298.4,726.1 298.4,724.1 298.4,722.1 298.4,720.1 298.4,718.1 298.4,716.1 298.4,714.0 298.4,712.0 298.4,710.0 298.5,708.0 298.5,706.0 298.5,704.0 298.5,702.0 298.5,700.0 298.5,698.0 298.5,696.0 298.5,694.0 298.5,692.0 298.6,690.0 298.6,688.0 298.6,686.0 298.6,684.0 298.6,682.0 298.6,680.0 298.6,678.0 298.6,676.0 298.6,674.0 298.6,672.0 298.6,670.0 298.7,668.0 298.7,666.0 298.7,664.0 298.7,662.0 298.7,660.0 298.7,658.0 298.7,656.0 298.7,654.0 298.7,652.0 298.8,650.0 298.8,648.0 298.8,646.0 298.8,644.0 298.8,642.0 298.8,640.0 298.8,638.0 298.8,636.0 298.8,634.0 298.8,632.0 298.9,630.0 298.9,628.0 298.9,626.0 298.9,624.0 298.9,622.0 298.9,620.0 298.9,618.0 298.9,616.0 298.9,614.0 298.9,612.0 298.9,610.0 299.0,608.0 299.0,606.0 299.0,604.0 299.0,602.0 299.0,600.0 299.0,598.0 299.0,596.0 299.0,594.0 299.0,592.0 299.1,590.0 299.1,588.0 299.1,586.0 299.1,584.0 299.1,582.0 299.1,580.0 299.1,578.0 299.1,576.0 299.1,574.0 299.1,572.0 299.1,570.0 299.2,568.0 299.2,566.0 299.2,564.0 299.2,562.0 299.2,560.0 299.2,558.0 299.2,556.0 299.2,554.0 299.2,552.0 299.2,550.0 299.3,548.0 299.3,546.0 299.3,544.0 299.3,542.0 299.3,540.0 299.3,538.0 299.3,536.0 299.3,534.0 299.3,532.0 299.4,530.0 299.4,528.0 299.4,526.0 299.4,524.0 299.4,522.0 299.4,520.0 299.4,518.0 299.4,516.0 299.4,514.0 299.4,512.0 299.4,510.0 299.5,508.0 299.5,506.0 299.5,504.0 299.5,502.0 299.5,500.0 299.5,498.0 299.5,496.0 299.5,494.0 299.5,492.0 299.6,490.0 299.6,488.0 299.6,486.0 299.6,484.0 299.6,482.0 299.6,480.0 299.6,478.0 299.6,476.0 299.6,474.0 299.6,472.0 299.6,470.0 299.7,468.0 299.7,466.0 299.7,464.0 299.7,462.0 299.7,460.0 299.7,458.0 299.7,456.0 299.7,454.0 299.7,452.0 299.8,450.0 299.8,448.0 299.8,446.0 299.8,444.0 299.8,442.0 299.8,440.0 299.8,438.0 299.8,436.0 299.8,434.0 299.8,432.0 299.9,430.0 299.9,428.0 299.9,426.0 299.9,424.0 299.9,422.0 299.9,420.0 299.9,418.0 299.9,416.0 299.9,414.0 299.9,412.0 299.9,410.0 300.0,408.0 300.0,406.0 300.0,404.0 300.0,402.0 300.0,400.0 300.0,398.0 300.0,396.0 300.1,394.0 300.1,392.0 300.1,390.0 300.1,388.0 300.1,386.0 300.1,384.0 300.2,382.0 300.2,380.0 300.2,378.0 300.2,376.0 300.2,374.0 300.2,372.0 300.3,370.0 300.3,368.0 300.3,366.0 300.3,364.0 300.3,362.0 300.4,360.0 300.4,358.0 300.4,356.0 300.4,354.0 300.4,352.0 300.4,350.0 300.5,348.0 300.5,346.0 300.5,344.0 300.5,342.0 300.5,340.0 300.6,338.0 300.6,336.0 300.6,334.0 300.6,332.0 300.6,330.0 300.6,328.0 300.7,326.0 300.7,324.0 300.7,322.0 300.7,320.0 300.7,318.0 300.8,316.0 300.8,314.0 300.8,312.0 300.8,310.0 300.8,308.0 300.8,306.0 300.9,304.0 300.9,302.0 300.9,300.0 300.9,298.0 300.9,296.0 300.9,294.0 301.0,292.0 301.0,290.0 301.0,288.0 301.0,286.0 301.0,284.0 301.1,282.0 301.1,280.0 301.1,278.0 301.1,276.0 301.1,274.0 301.1,272.0 301.2,270.0 301.2,268.0 301.2,266.0 301.2,264.0 301.2,262.0 301.2,260.0 301.3,258.0 301.3,256.0 301.3,254.0 301.3,252.0 301.3,250.0 301.4,248.0 301.4,246.0 301.4,244.0 301.4,242.0 301.4,240.0 301.4,238.0 301.5,236.0 301.5,234.0 301.5,232.0 301.6,230.0 301.6,228.0 301.6,226.0 301.7,224.0 301.8,222.0 301.8,220.0 301.9,218.0 301.9,216.0 301.9,214.0 302.0,212.0 304.0,209.4 306.0,209.0 308.3,209.0 310.7,207.8 313.0,206.0 315.2,204.8 317.5,205.0 319.8,204.3 322.0,204.0 324.2,203.8 326.3,203.5 328.5,200.8 330.7,199.9 332.8,201.7 335.0,200.0 337.3,199.3 339.5,199.8 341.8,197.0 344.1,197.8 346.3,198.2 348.6,197.0 350.8,195.9 353.1,197.7 355.3,197.2 357.5,194.3 359.8,193.9 362.0,195.0 364.2,194.6 366.3,195.3 368.5,193.1 370.7,192.1 372.8,192.3 375.0,192.0 377.1,190.4 379.3,190.7 381.4,191.2 383.6,191.1 385.7,190.1 387.9,189.9 390.0,190.5 392.0,189.2 394.0,189.5 396.0,188.6 398.0,187.4 400.0,189.4 402.0,188.0 404.2,187.8 406.3,187.8 408.5,186.1 410.7,188.1 412.8,187.4 415.0,186.0 417.1,184.6 419.3,184.9 421.4,185.8 423.6,185.5 425.7,185.9 427.9,184.1 430.0,184.0 432.0,184.5 434.0,183.5 436.0,181.9 438.0,182.3 440.0,182.6 442.0,181.0 444.0,180.8 446.0,178.5 448.0,177.5 450.0,176.0 451.8,173.6 453.5,173.2 455.3,173.0 457.4,173.7 459.6,172.3 461.7,171.4 463.9,172.3 466.0,172.0 468.0,174.6 470.0,176.0 472.0,176.5 474.0,175.6 476.0,175.8 478.0,176.0 480.0,175.7 482.0,176.2 484.0,175.1 486.0,174.3 488.0,174.3 490.0,174.0 492.0,172.6 494.0,172.6 496.0,174.6 498.0,175.4 500.0,174.0 502.2,174.3 504.4,173.7 506.6,173.0 508.8,174.0 511.0,174.8 513.3,177.0 515.5,177.2 517.8,177.3 520.0,178.0 522.1,179.4 524.3,177.8 526.4,178.9 528.6,180.5 530.7,179.7 532.9,179.6 535.0,180.0 537.1,179.3 539.3,180.1 541.4,181.4 543.6,178.5 545.7,180.9 547.9,181.0 550.0,180.0 552.1,181.0 554.1,180.4 556.2,180.4 558.3,179.4 560.3,179.4 562.4,179.0 564.6,179.2 566.9,178.5 569.1,181.4 571.3,180.9 573.5,180.2 575.8,181.6 578.0,182.0 580.0,182.1 582.0,181.9 584.0,182.0 586.0,182.7 588.0,183.1 590.0,183.2 592.0,183.0 594.2,182.9 596.3,181.6 598.5,182.2 600.7,182.0 602.8,183.3 605.0,183.0 607.2,184.2 609.3,184.1 611.5,184.2 613.6,184.3 615.8,183.5 618.1,183.1 620.4,185.3 622.7,185.1 625.0,185.0 627.0,184.4 629.0,184.9 631.0,187.0 633.0,186.3 635.0,189.3 637.0,188.5 639.0,190.0 641.3,189.0 643.7,190.7 646.0,190.5 648.3,190.5 650.7,190.2 653.0,192.0 655.3,190.6 657.7,191.4 660.0,191.0 662.3,189.4 664.6,189.1 666.9,189.8 669.2,188.5 671.4,188.3 673.5,187.8 675.7,188.1 677.8,186.7 680.0,188.0 682.5,190.0 682.5,192.0 682.5,194.0 682.5,196.0 682.5,198.1 682.5,200.1 682.5,202.1 682.5,204.1 682.5,206.1 682.5,208.1 682.5,210.1 682.5,212.1 682.5,214.2 682.5,216.2 682.5,218.2 682.5,220.2 682.5,222.2 682.5,224.2 682.5,226.2 682.5,228.2 682.5,230.3 682.5,232.3 682.5,234.3 682.5,236.3 682.5,238.3 682.5,240.3 682.5,242.3 682.5,244.3 682.5,246.4 682.5,248.4 682.5,250.4 682.5,252.4 682.5,254.4 682.5,256.4 682.5,258.4 682.5,260.4 682.5,262.5 682.5,264.5 682.5,266.5 682.5,268.5 682.5,270.5 682.5,272.5 682.5,274.5 682.5,276.5 682.5,278.6 682.5,280.6 682.5,282.6 682.5,284.6 682.5,286.6 682.5,288.6 682.5,290.6 682.5,292.6 682.5,294.7 682.5,296.7 682.5,298.7 682.5,300.7 682.5,302.7 682.5,304.7 682.5,306.7 682.5,308.7 682.5,310.8 682.5,312.8 682.5,314.8 682.5,316.8 682.5,318.8 682.5,320.8 682.5,322.8 682.5,324.8 682.5,326.9 682.5,328.9 682.5,330.9 682.5,332.9 682.5,334.9 682.5,336.9 682.5,338.9 682.5,340.9 682.5,343.0 682.5,345.0 682.5,347.0 682.5,349.0 684.5,349.7 686.6,351.0 687.5,352.6 688.4,353.7 689.3,355.3 690.2,359.5 691.1,360.2 692.0,362.0 692.9,363.2 693.8,366.5 694.8,369.3 695.7,369.0 696.6,371.1 697.5,374.6 698.2,375.5 698.9,379.2 699.6,379.5 700.3,383.1 701.0,385.0 701.7,386.6 702.4,387.6 703.1,391.8 703.8,393.2 704.5,394.4 705.2,396.3 705.8,397.4 706.3,400.7 706.9,401.9 707.5,404.4 708.1,405.6 708.6,408.5 709.2,408.8 709.8,411.5 710.4,415.5 710.9,417.2 711.5,418.0 711.7,419.5 712.0,423.2 712.2,423.7 712.4,427.6 712.7,429.1 712.9,430.2 713.1,431.8 713.4,433.1 713.6,436.7 713.7,440.1 713.7,439.7 713.8,444.3 713.9,447.0 713.9,448.0 714.0,450.0 715.0,451.0 716.0,455.1 717.0,457.4 718.0,458.0 719.5,459.9 721.1,460.7 722.6,462.0 724.7,462.2 726.8,462.7 728.8,462.9 730.9,464.9 733.0,465.0 735.4,465.5 737.8,465.5 740.1,465.9 742.5,467.8 744.4,469.0 746.3,468.6 748.2,469.9 750.2,470.1 752.1,472.4 754.0,472.0 756.1,474.1 758.1,472.4 760.2,473.8 762.2,475.1 764.3,476.5 766.6,478.4 768.9,478.2 771.2,477.3 773.5,477.3 775.8,478.6 777.8,479.6 779.9,480.6 781.9,481.3 783.9,480.1 786.0,482.2 788.0,481.5 790.1,482.6 792.2,482.5 794.2,484.6 796.3,482.9 798.4,484.2 800.9,484.8 803.5,482.8 806.0,484.0 808.1,482.2 810.3,483.7 812.4,481.7 814.3,479.9 816.2,480.6 818.1,479.2 820.0,478.0 822.4,478.8 824.7,477.2 827.0,476.8 829.4,477.1 831.5,476.7 833.6,478.6 835.8,478.0 837.9,479.2 840.0,478.0 842.2,479.5 844.5,477.5 846.7,479.1 849.0,478.1 851.2,479.6 853.4,478.1 855.6,478.0 857.8,480.2 860.0,479.0 862.3,479.4 864.5,479.1 866.8,477.7 868.8,476.8 870.9,477.2 873.0,477.3 875.0,476.0 877.6,475.7 880.3,476.3 882.9,476.1 884.7,476.5 886.5,477.3 888.2,479.1 890.0,481.0 892.0,483.4 893.9,483.6 895.8,485.9 897.8,485.8 900.2,485.4 902.6,484.6 905.0,485.0 907.1,485.3 909.2,484.8 911.3,481.8 913.4,482.7 915.3,483.8 917.3,482.6 919.2,483.2 921.1,486.1 923.1,484.1 925.0,486.0 927.0,485.8 928.9,488.7 930.9,487.6 932.8,487.2 934.8,488.0 936.7,489.6 938.9,489.1 941.1,490.8 943.4,489.1 945.6,491.8 947.8,490.4 950.0,491.0 952.0,492.6 954.0,492.6 956.1,491.0 958.1,491.1 960.1,491.9 962.2,491.0 964.2,492.9 966.2,492.6 968.2,491.6 970.1,491.9 972.1,495.2 974.1,493.6 976.0,494.9 978.0,495.0 980.1,495.0 982.1,494.7 984.2,494.1 986.3,496.8 988.3,497.1 990.4,495.8 992.8,497.8 995.2,495.7 997.6,496.6 1000.0,498.0 1002.0,499.0 1004.0,500.8 1006.0,500.0 1008.0,499.4 1010.0,499.2 1012.0,498.4 1014.0,496.5 1016.0,496.5 1018.1,497.6 1020.2,497.8 1022.3,498.6 1024.4,499.1 1026.5,501.3 1028.8,500.0 1031.0,501.6 1033.3,499.5 1035.4,499.5 1037.5,500.2 1039.7,500.3 1041.8,501.3 1043.9,500.1 1045.9,500.0 1047.9,500.1 1049.9,500.4 1052.0,500.6 1054.0,502.5 1056.0,502.9 1058.0,502.0 1060.0,502.0 1062.0,502.8 1064.0,504.0 1066.0,504.5 1068.0,504.9 1070.0,505.0 1072.0,504.1 1074.0,505.0 1076.0,503.3 1078.0,503.7 1080.0,503.0 1082.0,504.0 1084.2,504.4 1086.3,503.1 1088.5,503.3 1090.6,505.2 1092.8,504.4 1094.9,506.1 1097.1,505.4 1099.2,505.6 1101.4,506.9 1103.5,505.0 1105.6,506.3 1107.7,507.4 1109.9,505.5 1112.0,507.0 1114.2,508.3 1116.3,506.0 1118.5,507.8 1120.7,508.5 1122.8,508.0 1125.0,507.0 1127.2,506.8 1129.3,506.5 1131.5,508.0 1133.7,509.6 1135.8,508.0 1138.0,509.0 1140.0,510.3 1142.1,508.2 1144.2,510.7 1146.2,508.2 1148.2,509.2 1150.3,509.9 1152.4,511.3 1154.5,511.2 1156.7,511.7 1158.8,511.7 1160.9,511.6 1163.0,511.0 1165.0,512.1 1167.0,511.0 1169.0,512.3 1171.0,512.0 1173.0,514.1 1175.0,514.0 1177.2,514.8 1179.3,513.8 1181.5,513.4 1183.7,516.4 1185.8,516.2 1188.0,515.5 1190.0,516.0 1192.0,516.4 1194.0,517.7 1196.0,516.9 1198.1,517.1 1200.1,517.3 1202.1,517.5 1204.1,518.6 1206.4,517.4 1208.7,519.5 1211.0,519.1 1213.4,519.7 1215.7,518.5 1218.0,520.0 1220.0,520.0 1222.0,519.7 1224.0,520.1 1226.0,520.9 1228.0,522.0 1230.4,523.1 1232.7,521.9 1235.1,522.3 1237.0,520.6 1239.0,519.5 1241.0,519.2 1242.9,518.3 1245.0,518.4 1247.0,520.0 1248.7,520.3 1250.5,523.7 1252.2,525.4 1253.1,527.6 1254.1,530.2 1255.0,532.0 1255.4,533.8 1255.9,536.5 1256.3,538.6 1256.8,539.1 1257.2,541.9 1257.9,543.9 1258.5,545.9 1259.2,547.1 1259.8,549.7 1260.5,552.0 1261.2,554.2 1261.9,557.3 1262.5,559.4 1263.2,559.5 1263.9,562.7 1264.6,564.3 1265.3,564.9 1266.1,566.8 1266.8,570.1 1267.5,573.1 1268.2,572.8 1269.0,576.6 1269.7,577.7 1270.2,580.8 1270.7,581.1 1271.2,584.2 1271.6,586.7 1272.1,587.2 1272.6,590.2 1273.1,592.3 1273.6,593.9 1274.0,596.6 1274.5,598.7 1275.0,600.9 1275.5,601.5 1276.1,603.8 1276.7,604.7 1277.3,607.0 1277.9,608.9 1278.5,612.1 1279.1,614.7 1279.7,614.7 1280.3,618.6 1280.9,620.8 1281.5,621.8 1282.1,624.3 1282.9,626.4 1283.8,627.4 1284.6,631.2 1285.4,631.2 1286.2,636.1 1287.1,637.7 1287.9,638.8 1288.5,641.2 1289.2,642.2 1289.8,646.2 1290.5,648.4 1291.1,648.0 1291.7,652.0 1292.4,654.3 1293.0,655.3 1294.0,657.9 1295.1,660.1 1296.1,661.4 1297.1,664.9 1298.2,667.1 1299.2,667.8 1301.6,669.0 1304.0,671.0 1306.3,672.2 1308.7,671.3 1311.0,671.8 1313.2,671.4 1315.4,672.6 1317.6,672.6 1319.8,675.6 1322.0,675.0 1324.0,676.6 1326.0,674.4 1328.0,676.1 1330.0,675.8 1332.0,675.2 1334.0,676.0 1336.0,676.1 1338.0,677.1 1340.0,677.6 1342.0,675.1 1344.0,675.3 1346.0,676.0 1348.5,675.1 1351.1,673.2 1353.6,674.0 1355.8,674.5 1358.1,674.6 1360.3,675.4 1362.6,673.6 1364.8,674.6 1366.8,674.4 1368.9,675.7 1370.9,675.4 1373.0,676.8 1375.0,677.0 1377.4,676.7 1379.8,678.4 1382.2,679.1 1384.6,678.6 1386.5,678.8 1388.4,678.6 1390.2,676.6 1392.1,675.7 1394.0,675.0 1395.9,675.2 1397.7,674.2 1399.6,672.8 1401.4,671.4 1403.3,670.9 1405.5,669.6 1407.8,668.5 1410.0,669.0 1412.6,669.8 1415.3,667.7 1417.9,668.7 1420.2,669.5 1422.5,669.0 1424.7,670.3 1427.0,669.0 1429.9,669.2 1432.8,667.8 1433.2,667.1 1433.5,662.4 1433.9,661.4 1434.3,659.5 1434.6,656.6 1435.0,655.0 1435.4,652.8 1435.7,650.2 1436.1,648.6 1436.4,644.8 1436.8,644.0 1437.1,641.8 1437.5,639.8 1438.0,637.2 1438.4,635.5 1438.8,634.7 1439.3,632.4 1439.8,629.9 1440.2,628.4 1440.7,625.6 1441.1,623.1 1441.5,620.5 1442.0,620.0 1442.5,617.4 1443.1,616.4 1443.6,615.3 1444.1,613.2 1444.7,610.3 1445.2,609.8 1445.7,606.3 1446.3,605.4 1446.8,602.5 1447.3,600.2 1447.7,599.1 1448.2,597.8 1448.7,593.7 1449.2,591.3 1449.6,590.6 1450.1,588.2 1450.6,585.7 1451.0,582.6 1451.5,582.0 1452.0,579.7 1452.4,577.8 1452.9,575.7 1453.3,575.1 1453.8,572.3 1454.3,570.8 1454.7,569.3 1455.2,566.8 1455.6,564.1 1456.1,562.1 1456.6,560.8 1457.2,558.5 1457.8,556.5 1458.3,554.4 1458.8,551.8 1459.4,550.4 1460.0,548.4 1460.5,546.0 1461.2,545.2 1461.9,542.6 1462.6,540.7 1463.3,538.3 1464.0,536.3 1464.7,533.5 1465.4,531.1 1466.4,528.3 1467.5,525.7 1468.5,524.0 1470.0,522.9 1471.6,520.6 1473.7,521.6 1475.8,520.4 1477.9,519.1 1480.0,520.0 1482.2,521.0 1484.4,520.0 1486.6,520.0 1487.2,517.9 1487.8,514.6 1488.4,514.0 1489.0,512.0 1489.4,510.7 1489.8,507.8 1490.2,505.6 1490.7,504.5 1491.1,500.6 1491.5,500.0 1492.2,498.1 1493.0,497.5 1493.7,494.9 1494.4,492.4 1495.6,490.5 1496.8,489.7 1498.0,487.5 1500.0,486.4 1502.1,484.6 1504.1,482.2 1506.0,480.7 1508.0,480.0 1509.7,480.0 1511.3,477.0 1512.9,475.2 1514.6,475.3 1516.4,474.9 1518.2,472.5 1520.0,471.0 1521.8,469.4 1523.6,468.7 1525.4,467.5 1527.6,467.6 1529.7,465.3 1531.8,466.1 1534.0,465.0 1536.1,465.1 1538.2,464.9 1540.4,462.7 1542.5,462.9 1543.9,461.8 1545.2,459.1 1546.6,458.7 1548.0,457.0 1549.3,454.0 1550.7,453.8 1552.1,452.0 1553.4,448.9 1554.1,446.4 1554.8,444.1 1555.5,444.3 1556.1,441.6 1556.8,440.0 1557.5,437.0 1558.1,433.4 1558.7,433.9 1559.3,430.9 1560.0,427.8 1560.6,426.0 1561.2,424.1 1561.7,422.7 1562.2,420.7 1562.6,416.8 1563.1,415.9 1563.6,412.4 1564.0,412.7 1564.5,409.0 1565.0,407.0 1565.5,406.1 1566.0,403.4 1566.5,400.9 1567.0,397.7 1567.4,396.4 1567.9,393.1 1568.4,391.0 1568.9,389.9 1569.4,388.5 1569.9,385.3 1570.5,384.4 1571.0,380.8 1571.5,380.2 1572.0,378.1 1572.6,374.8 1573.1,372.1 1573.6,371.2 1573.8,368.8 1574.0,367.0 1574.2,363.8 1574.4,362.0 1574.6,359.5 1574.8,359.1 1575.0,357.9 1575.3,353.8 1575.5,351.2 1575.7,351.1 1575.9,349.4 1576.1,347.8 1576.3,344.7 1576.5,341.8 1576.7,340.2 1576.8,338.2 1576.9,336.2 1577.0,334.2 1577.1,332.2 1577.2,330.1 1577.3,328.1 1577.4,326.1 1577.5,324.1 1577.6,322.1 1577.7,320.1 1577.7,318.1 1577.8,316.1 1577.9,314.1 1578.0,312.1 1578.1,310.1 1578.2,308.0 1578.3,306.0 1578.4,304.0 1578.5,302.0 1578.6,300.0 1578.6,298.0 1578.6,295.9 1578.6,293.9 1578.6,291.9 1578.6,289.8 1578.6,287.8 1578.6,285.8 1578.6,283.7 1578.6,281.7 1578.6,279.7 1578.6,277.6 1578.6,275.6 1578.6,273.6 1578.6,271.5 1578.6,269.5 1578.6,267.5 1578.6,265.4 1578.6,263.4 1578.6,261.4 1578.6,259.3 1578.6,257.3 1578.6,255.3 1578.6,253.2 1578.6,251.2 1578.6,249.2 1578.6,247.2 1578.6,245.1 1578.6,243.1 1578.6,241.1 1578.6,239.0 1578.6,237.0 1578.6,235.0 1578.6,232.9 1578.6,230.9 1578.6,228.9 1578.6,226.8 1578.6,224.8 1578.6,222.8 1578.6,220.7 1578.6,218.7 1578.6,216.7 1578.6,214.6 1578.6,212.6 1578.6,210.6 1578.6,208.5 1578.6,206.5 1578.6,204.5 1578.6,202.4 1578.6,200.4 1580.7,201.7 1582.8,199.8 1584.9,201.8 1587.0,201.5 1589.1,200.4 1591.2,201.4 1593.2,201.8 1595.3,201.9 1597.2,200.9 1599.2,199.7 1601.1,199.3 1603.0,199.5 1605.0,199.9 1607.0,198.3 1608.9,198.1 1610.9,197.3 1612.9,195.7 1614.9,196.4 1617.0,194.5 1619.0,194.5 1621.0,193.5 1623.1,194.2 1625.2,194.0 1627.4,190.6 1629.5,192.4 1631.6,191.0 1633.9,191.6 1636.3,189.5 1638.7,189.1 1641.0,189.0 1643.0,189.0 1645.1,189.9 1647.1,188.1 1649.2,189.3 1651.2,188.0 1653.1,187.4 1655.1,184.3 1657.0,184.0 1659.2,184.7 1661.5,181.5 1663.7,182.4 1665.8,181.9 1667.9,184.0 1670.0,184.0 1672.0,183.0 1674.1,184.2 1676.1,184.9 1678.3,183.4 1680.5,184.0 1682.6,184.8 1684.8,184.6 1687.0,183.0 1689.2,181.3 1691.3,181.2 1693.5,183.2 1695.6,180.6 1697.8,181.7 1699.6,179.8 1701.4,178.2 1703.2,176.9 1705.0,177.0 1707.1,174.8 1709.2,175.9 1711.3,175.5 1713.4,174.0 1715.6,174.2 1717.7,174.3 1719.8,173.4 1722.0,172.5 1724.0,172.1 1726.0,172.8 1728.0,173.8 1730.0,172.3 1732.1,172.8 1734.2,171.6 1736.4,171.1 1738.5,172.5 1740.8,173.6 1743.1,172.4 1745.4,171.4 1747.7,172.0 1750.0,171.5 1752.0,171.6 1754.0,171.3 1756.0,169.8 1758.0,171.0 1760.0,171.2 1762.0,172.1 1764.0,173.0 1766.2,173.8 1768.5,176.5"/>
<line x1="297.0" y1="993.0" x2="298.5" y2="700.0" stroke="#000" stroke-width="8" stroke-linecap="butt"/>
<line x1="298.5" y1="700.0" x2="300.0" y2="400.0" stroke="#000" stroke-width="8" stroke-linecap="butt"/>
<line x1="300.0" y1="400.0" x2="301.5" y2="232.0" stroke="#000" stroke-width="8" stroke-linecap="butt"/>
<line x1="301.5" y1="232.0" x2="302.0" y2="212.0" stroke="#000" stroke-width="8" stroke-linecap="butt"/>
<line x1="682.5" y1="190.0" x2="682.5" y2="349.0" stroke="#000" stroke-width="8" stroke-linecap="butt"/>
<line x1="1576.7" y1="340.2" x2="1578.6" y2="300.0" stroke="#000" stroke-width="8" stroke-linecap="butt"/>
<line x1="1578.6" y1="300.0" x2="1578.6" y2="200.4" stroke="#000" stroke-width="8" stroke-linecap="butt"/>
<rect x="285.0" y="983.5" width="20" height="20" fill="#000"/>
<rect x="338.6" y="186.5" width="20" height="20" fill="#000"/>
<rect x="392.0" y="177.5" width="20" height="20" fill="#000"/>
<rect x="445.3" y="162.5" width="20" height="20" fill="#000"/>
<rect x="498.8" y="163.3" width="20" height="20" fill="#000"/>
<rect x="552.4" y="168.0" width="20" height="20" fill="#000"/>
<rect x="605.8" y="173.0" width="20" height="20" fill="#000"/>
<rect x="659.2" y="177.2" width="20" height="20" fill="#000"/>
<rect x="712.6" y="452.0" width="20" height="20" fill="#000"/>
<rect x="765.8" y="468.6" width="20" height="20" fill="#000"/>
<rect x="819.4" y="467.1" width="20" height="20" fill="#000"/>
<rect x="872.9" y="466.1" width="20" height="20" fill="#000"/>
<rect x="926.7" y="479.6" width="20" height="20" fill="#000"/>
<rect x="980.4" y="485.8" width="20" height="20" fill="#000"/>
<rect x="1033.9" y="490.1" width="20" height="20" fill="#000"/>
<rect x="1087.1" y="495.4" width="20" height="20" fill="#000"/>
<rect x="1140.3" y="499.9" width="20" height="20" fill="#000"/>
<rect x="1194.1" y="508.6" width="20" height="20" fill="#000"/>
<rect x="1247.2" y="531.9" width="20" height="20" fill="#000"/>
<rect x="1301.0" y="661.8" width="20" height="20" fill="#000"/>
<rect x="1354.8" y="664.6" width="20" height="20" fill="#000"/>
<rect x="1407.9" y="658.7" width="20" height="20" fill="#000"/>
<rect x="1461.6" y="510.6" width="20" height="20" fill="#000"/>
<rect x="1515.4" y="457.5" width="20" height="20" fill="#000"/>
<rect x="1568.2" y="190.4" width="20" height="20" fill="#000"/>
<rect x="1621.6" y="180.5" width="20" height="20" fill="#000"/>
<rect x="1675.0" y="169.0" width="20" height="20" fill="#000"/>
<rect x="1728.5" y="164.8" width="20" height="20" fill="#000"/>
<polyline fill="none" stroke="#f00" stroke-opacity="0.5" stroke-width="8.6" stroke-linejoin="round" points="297.0,181.0 299.2,182.7 301.3,183.0 303.5,180.7 305.7,181.1 307.8,183.7 310.0,183.0 312.0,183.0 314.0,182.2 316.0,180.4 318.0,180.7 320.0,180.0 322.0,179.0 324.2,178.7 326.3,176.8 328.5,177.0 330.7,176.3 332.8,176.8 335.0,175.5 337.3,176.9 339.6,176.7 341.9,175.4 344.2,175.0 346.5,174.4 348.8,175.0 351.0,174.1 353.2,174.6 355.4,176.4 357.6,176.5 359.8,177.1 362.0,178.0 364.0,178.4 366.0,176.5 368.0,175.8 370.0,174.0 372.0,174.0 374.2,173.2 376.4,174.7 378.6,174.7 380.8,176.4 383.0,177.0 385.2,179.2 387.5,179.0 389.8,178.3 392.0,180.0 394.0,180.4 395.9,179.3 397.9,178.3 399.8,178.0 401.8,176.0 404.0,177.5 406.2,178.2 408.4,177.6 410.6,180.1 412.8,180.7 415.0,180.0 417.1,179.1 419.3,181.0 421.4,181.1 423.6,180.5 425.7,180.8 427.9,180.8 430.0,181.0 432.1,182.2 434.3,180.9 436.4,181.8 438.6,180.3 440.7,181.8 442.9,181.8 445.0,180.5 447.1,180.4 449.2,180.7 451.3,181.8 453.4,181.2 455.5,180.5 457.6,179.8 459.7,178.3 461.8,177.9 463.9,178.3 466.0,177.0 468.2,175.4 470.5,177.0 472.8,174.4 475.0,174.5 477.0,175.6 479.0,173.7 481.0,175.6 483.0,174.7 485.0,174.0 487.1,174.1 489.3,174.2 491.4,174.7 493.6,174.5 495.7,173.8 497.9,173.6 500.0,174.5 502.2,174.7 504.4,176.1 506.6,175.2 508.8,175.0 511.0,173.9 513.2,176.3 515.4,176.2 517.6,176.9 519.8,174.9 522.0,176.0 524.0,177.0 526.0,175.2 528.0,177.2 530.0,176.3 532.0,176.4 534.0,178.6 536.0,176.6 538.0,178.0 540.0,177.8 542.0,178.6 544.0,176.5 546.0,176.1 548.0,177.9 550.0,176.5 552.0,176.2 554.0,177.0 556.0,174.8 558.0,175.8 560.0,175.1 562.0,176.0 564.0,176.9 566.0,175.5 568.0,178.5 570.0,176.1 572.0,178.6 574.0,176.8 576.0,177.9 578.0,179.0 580.1,180.1 582.2,178.2 584.4,178.4 586.5,180.1 588.6,179.3 590.8,178.4 592.9,181.3 595.0,180.0 597.0,178.8 599.0,178.2 601.0,178.9 603.0,179.5 605.0,179.0 607.1,179.7 609.2,177.8 611.4,178.4 613.5,177.4 615.6,178.8 617.7,178.2 619.7,178.8 621.8,178.3 623.8,178.4 625.9,177.6 627.9,177.5 630.0,176.0 632.0,176.2 634.0,175.1 636.0,173.9 638.0,174.8 640.0,173.4 642.0,173.5 644.0,172.2 646.0,173.2 648.0,174.4 650.0,172.1 652.0,173.4 654.0,172.8 656.0,173.0 658.3,173.2 660.6,172.3 662.9,174.9 665.1,172.9 667.4,174.2 669.7,174.0 671.8,174.1 673.9,173.3 675.9,175.3 678.0,175.5 680.0,173.6 682.0,172.5 684.0,173.0 686.5,170.4 689.0,170.5 691.5,170.7 694.0,173.0 696.0,173.1 698.0,176.1 700.0,177.0 702.0,176.9 704.0,178.3 706.0,178.0 708.0,178.1 710.0,176.5 712.1,175.8 714.1,176.6 716.2,176.2 718.3,177.3 720.3,177.5 722.4,177.3 724.6,178.4 726.9,178.4 729.1,177.3 731.3,178.0 733.5,178.6 735.8,177.3 738.0,179.0 740.0,177.7 742.0,178.9 744.0,178.1 746.0,180.0 748.0,178.6 750.0,179.5 752.0,178.7 754.0,179.3 756.0,179.9 758.0,180.3 760.0,181.5 762.3,180.7 764.7,179.7 767.0,179.0 768.8,177.4 770.6,177.4 772.5,175.1 774.3,176.2 776.1,174.0 778.1,175.7 780.1,175.3 782.1,174.7 784.0,175.2 786.0,175.7 788.0,174.4 790.0,176.0 792.1,176.0 794.3,176.5 796.4,175.7 798.6,175.6 800.7,178.0 802.9,176.9 805.0,177.5 807.2,177.3 809.3,178.3 811.5,177.1 813.7,175.9 815.8,177.7 818.0,176.0 820.0,175.1 822.0,173.6 824.0,175.1 826.0,172.8 828.0,172.9 830.0,173.0 832.1,174.5 834.3,174.4 836.4,172.8 838.6,174.6 840.7,174.9 842.9,175.5 845.0,176.0 847.2,175.5 849.3,177.1 851.5,176.0 853.7,177.0 855.8,177.7 858.0,178.5 860.0,179.9 862.0,177.4 864.0,179.5 866.0,177.9 868.0,179.1 870.0,179.0 872.2,178.7 874.4,178.9 876.6,179.8 878.9,178.7 881.1,177.9 883.3,179.0 885.6,178.0 887.9,178.1 890.1,180.6 892.4,180.1 894.7,181.2 897.0,180.0 899.0,179.8 901.0,177.1 903.0,178.2 905.0,177.0 907.0,177.2 909.0,176.4 911.0,175.1 913.0,174.5 915.0,174.0 917.0,174.2 919.0,175.1 921.0,173.5 923.0,174.2 925.0,174.0 927.3,174.1 929.7,175.8 932.0,175.5 934.4,176.1 936.7,175.0 938.9,175.8 941.1,174.1 943.4,173.7 945.6,174.3 947.8,173.4 950.0,174.0 952.0,174.1 954.0,175.2 956.0,176.3 958.0,175.6 960.0,176.6 962.0,176.0 964.2,175.0 966.3,175.9 968.5,178.0 970.7,175.6 972.8,176.6 975.0,177.0 977.2,175.7 979.4,175.8 981.6,178.2 983.7,178.5 985.9,177.4 988.1,175.9 990.3,177.0 992.6,176.7 994.9,176.9 997.1,178.5 999.4,178.9 1001.7,178.5 1004.0,179.0 1006.0,178.8 1008.0,177.3 1010.0,178.4 1012.0,178.0 1014.0,178.5 1016.0,177.2 1018.0,174.4 1020.0,174.8 1022.0,174.0 1024.0,174.4 1026.0,172.9 1028.0,174.6 1030.0,173.1 1032.0,173.0 1034.3,174.0 1036.6,173.5 1039.0,175.7 1041.3,175.4 1043.6,175.0 1045.7,174.9 1047.7,173.4 1049.8,174.0 1051.8,172.4 1053.9,173.9 1055.9,174.4 1058.0,173.0 1060.0,172.4 1062.0,173.7 1064.0,173.9 1066.0,174.0 1068.0,175.3 1070.0,175.0 1072.2,176.6 1074.3,176.3 1076.5,175.9 1078.7,177.7 1080.8,176.2 1083.0,177.0 1085.1,177.7 1087.1,177.5 1089.2,177.8 1091.2,178.1 1093.3,176.2 1095.3,177.4 1097.4,177.0 1099.5,177.0 1101.6,178.2 1103.7,179.4 1105.8,178.7 1107.9,177.2 1110.0,179.0 1112.0,179.1 1114.0,180.0 1116.0,180.6 1118.0,180.1 1120.0,180.8 1122.0,180.0 1124.2,178.9 1126.5,182.1 1128.8,181.8 1131.0,181.5 1133.2,180.9 1135.5,181.0 1137.8,180.0 1140.0,178.0 1142.1,175.9 1144.2,177.1 1146.3,176.1 1148.4,173.5 1150.5,173.5 1152.6,174.1 1154.7,173.4 1156.8,172.1 1158.8,173.7 1160.9,171.6 1163.0,172.5 1165.2,173.2 1167.5,173.1 1169.8,172.9 1172.0,174.0 1174.0,174.9 1176.0,175.2 1178.0,175.1 1180.0,178.1 1182.0,176.1 1184.0,178.0 1186.2,176.1 1188.4,177.2 1190.6,177.8 1192.8,176.9 1195.0,176.0 1197.3,176.3 1199.7,175.0 1202.1,175.0 1204.4,174.0 1206.7,173.8 1208.9,174.0 1211.2,175.0 1213.5,173.9 1215.7,174.4 1218.0,176.0 1220.0,177.1 1222.0,175.7 1224.0,177.8 1226.0,178.2 1228.0,177.4 1230.0,178.0 1232.1,178.8 1234.3,179.4 1236.4,179.9 1238.6,178.0 1240.7,178.4 1242.9,179.4 1245.0,180.0 1247.1,179.9 1249.2,179.4 1251.3,178.5 1253.5,180.2 1255.6,181.4 1257.7,180.0 1259.8,179.3 1261.8,179.4 1263.8,178.6 1265.9,178.5 1268.0,179.4 1270.0,178.0 1272.0,176.9 1274.0,177.4 1276.0,176.5 1278.0,176.1 1280.0,176.7 1282.0,173.7 1284.0,174.5 1286.0,175.4 1288.0,173.8 1290.0,174.7 1292.0,175.1 1294.0,174.6 1296.0,173.8 1298.0,174.0 1300.2,175.1 1302.3,172.9 1304.5,174.6 1306.7,174.0 1308.8,174.5 1311.0,174.5 1313.0,175.6 1315.0,175.5 1317.0,175.1 1319.0,174.2 1321.0,174.1 1323.0,174.8 1325.0,175.0 1327.1,174.3 1329.3,174.6 1331.4,176.8 1333.6,174.4 1335.7,176.7 1337.9,175.5 1340.0,176.0 1342.0,175.6 1344.0,175.5 1346.0,174.7 1348.0,175.9 1350.0,175.0 1352.0,176.0 1354.1,176.0 1356.2,175.7 1358.3,177.7 1360.4,177.9 1362.5,176.7 1364.6,177.0 1366.8,177.6 1369.1,178.6 1371.3,177.0 1373.5,176.5 1375.8,177.0 1378.0,178.0 1380.0,177.2 1382.0,178.8 1384.0,178.0 1386.0,178.1 1388.0,179.6 1390.0,178.1 1392.0,179.0 1394.2,179.8 1396.3,179.1 1398.5,178.2 1400.7,179.3 1402.8,177.7 1405.0,178.0 1407.2,179.0 1409.3,178.9 1411.5,177.5 1413.7,177.9 1415.8,178.5 1418.0,177.0 1420.0,177.7 1422.0,177.8 1424.0,178.1 1426.0,178.3 1428.0,177.8 1430.0,178.4 1432.0,177.0 1434.2,176.2 1436.3,177.0 1438.5,177.0 1440.7,175.9 1442.8,175.9 1445.0,176.0 1447.2,175.4 1449.3,178.0 1451.5,176.6 1453.7,177.3 1455.8,178.8 1458.0,178.0 1460.2,177.1 1462.4,179.4 1464.7,176.9 1466.9,176.6 1469.1,177.6 1471.3,178.0 1473.6,177.2 1475.9,178.6 1478.2,178.1 1480.4,177.5 1482.7,176.1 1485.0,176.0 1487.0,175.7 1489.0,174.4 1491.0,175.8 1493.0,174.0 1495.0,173.3 1497.0,173.5 1499.2,174.0 1501.3,172.6 1503.5,173.2 1505.7,175.1 1507.8,172.7 1510.0,174.0 1512.1,173.3 1514.3,173.8 1516.4,174.3 1518.6,175.2 1520.7,175.0 1522.9,175.7 1525.0,176.5 1527.2,175.2 1529.3,174.6 1531.5,175.1 1533.7,173.7 1535.8,173.2 1538.0,173.0 1540.0,174.1 1542.0,172.4 1544.0,172.9 1546.0,175.4 1548.0,174.5 1550.0,175.0 1552.0,176.3 1554.0,174.8 1556.0,176.4 1558.0,177.8 1560.0,176.7 1562.0,178.4 1564.0,178.0 1566.0,178.2 1568.1,177.4 1570.1,179.1 1572.1,177.1 1574.1,177.2 1576.2,177.5 1578.2,177.0 1580.5,176.6 1582.8,178.3 1585.1,177.8 1587.4,177.9 1589.7,177.9 1592.0,178.0 1594.2,179.8 1596.3,180.1 1598.5,180.0 1600.7,179.2 1602.8,179.4 1605.0,180.0 1607.2,180.1 1609.3,178.6 1611.5,178.8 1613.7,181.5 1615.8,178.9 1618.0,180.0 1620.0,181.2 1622.0,180.4 1624.0,181.0 1626.0,178.4 1628.0,179.1 1630.0,180.5 1632.0,179.5 1634.0,177.5 1636.0,177.3 1638.0,177.6 1640.0,176.5 1642.0,175.9 1644.0,177.0 1646.0,176.0 1648.0,174.4 1650.0,176.7 1652.0,175.4 1654.0,173.2 1656.0,175.4 1658.0,173.1 1660.0,173.5 1662.0,173.5 1664.0,173.8 1666.0,172.7 1668.0,173.8 1670.0,172.6 1672.0,174.0 1674.3,173.3 1676.5,175.8 1678.8,175.7 1681.1,175.1 1683.3,175.8 1685.6,175.5 1687.7,175.8 1689.9,172.8 1692.0,173.0 1694.0,172.8 1696.0,171.6 1698.0,172.5 1700.0,171.7 1702.0,172.1 1704.0,172.8 1706.0,174.0 1708.0,173.5 1710.0,174.7 1712.0,176.0 1714.0,177.6 1716.0,178.0 1718.0,179.3 1720.0,179.7 1722.0,179.4 1724.0,179.0 1726.0,180.5 1728.0,179.5 1730.1,178.1 1732.2,177.5 1734.2,179.3 1736.3,178.3 1738.4,177.5 1740.7,176.9 1743.0,177.7 1745.4,177.8 1747.7,178.5 1750.0,179.0 1752.0,179.6 1754.0,180.3 1756.0,182.3 1758.0,183.1 1760.0,183.0 1762.5,183.9 1765.0,184.3 1767.5,185.0"/>
<polyline fill="none" stroke="#f00" stroke-opacity="0.7" stroke-width="8.6" stroke-linejoin="bevel" stroke-dasharray="2.4 0.6" points="297.0,181.0 299.2,182.7 301.3,183.0 303.5,180.7 305.7,181.1 307.8,183.7 310.0,183.0 312.0,183.0 314.0,182.2 316.0,180.4 318.0,180.7 320.0,180.0 322.0,179.0 324.2,178.7 326.3,176.8 328.5,177.0 330.7,176.3 332.8,176.8 335.0,175.5 337.3,176.9 339.6,176.7 341.9,175.4 344.2,175.0 346.5,174.4 348.8,175.0 351.0,174.1 353.2,174.6 355.4,176.4 357.6,176.5 359.8,177.1 362.0,178.0 364.0,178.4 366.0,176.5 368.0,175.8 370.0,174.0 372.0,174.0 374.2,173.2 376.4,174.7 378.6,174.7 380.8,176.4 383.0,177.0 385.2,179.2 387.5,179.0 389.8,178.3 392.0,180.0 394.0,180.4 395.9,179.3 397.9,178.3 399.8,178.0 401.8,176.0 404.0,177.5 406.2,178.2 408.4,177.6 410.6,180.1 412.8,180.7 415.0,180.0 417.1,179.1 419.3,181.0 421.4,181.1 423.6,180.5 425.7,180.8 427.9,180.8 430.0,181.0 432.1,182.2 434.3,180.9 436.4,181.8 438.6,180.3 440.7,181.8 442.9,181.8 445.0,180.5 447.1,180.4 449.2,180.7 451.3,181.8 453.4,181.2 455.5,180.5 457.6,179.8 459.7,178.3 461.8,177.9 463.9,178.3 466.0,177.0 468.2,175.4 470.5,177.0 472.8,174.4 475.0,174.5 477.0,175.6 479.0,173.7 481.0,175.6 483.0,174.7 485.0,174.0 487.1,174.1 489.3,174.2 491.4,174.7 493.6,174.5 495.7,173.8 497.9,173.6 500.0,174.5 502.2,174.7 504.4,176.1 506.6,175.2 508.8,175.0 511.0,173.9 513.2,176.3 515.4,176.2 517.6,176.9 519.8,174.9 522.0,176.0 524.0,177.0 526.0,175.2 528.0,177.2 530.0,176.3 532.0,176.4 534.0,178.6 536.0,176.6 538.0,178.0 540.0,177.8 542.0,178.6 544.0,176.5 546.0,176.1 548.0,177.9 550.0,176.5 552.0,176.2 554.0,177.0 556.0,174.8 558.0,175.8 560.0,175.1 562.0,176.0 564.0,176.9 566.0,175.5 568.0,178.5 570.0,176.1 572.0,178.6 574.0,176.8 576.0,177.9 578.0,179.0 580.1,180.1 582.2,178.2 584.4,178.4 586.5,180.1 588.6,179.3 590.8,178.4 592.9,181.3 595.0,180.0 597.0,178.8 599.0,178.2 601.0,178.9 603.0,179.5 605.0,179.0 607.1,179.7 609.2,177.8 611.4,178.4 613.5,177.4 615.6,178.8 617.7,178.2 619.7,178.8 621.8,178.3 623.8,178.4 625.9,177.6 627.9,177.5 630.0,176.0 632.0,176.2 634.0,175.1 636.0,173.9 638.0,174.8 640.0,173.4 642.0,173.5 644.0,172.2 646.0,173.2 648.0,174.4 650.0,172.1 652.0,173.4 654.0,172.8 656.0,173.0 658.3,173.2 660.6,172.3 662.9,174.9 665.1,172.9 667.4,174.2 669.7,174.0 671.8,174.1 673.9,173.3 675.9,175.3 678.0,175.5 680.0,173.6 682.0,172.5 684.0,173.0 686.5,170.4 689.0,170.5 691.5,170.7 694.0,173.0 696.0,173.1 698.0,176.1 700.0,177.0 702.0,176.9 704.0,178.3 706.0,178.0 708.0,178.1 710.0,176.5 712.1,175.8 714.1,176.6 716.2,176.2 718.3,177.3 720.3,177.5 722.4,177.3 724.6,178.4 726.9,178.4 729.1,177.3 731.3,178.0 733.5,178.6 735.8,177.3 738.0,179.0 740.0,177.7 742.0,178.9 744.0,178.1 746.0,180.0 748.0,178.6 750.0,179.5 752.0,178.7 754.0,179.3 756.0,179.9 758.0,180.3 760.0,181.5 762.3,180.7 764.7,179.7 767.0,179.0 768.8,177.4 770.6,177.4 772.5,175.1 774.3,176.2 776.1,174.0 778.1,175.7 780.1,175.3 782.1,174.7 784.0,175.2 786.0,175.7 788.0,174.4 790.0,176.0 792.1,176.0 794.3,176.5 796.4,175.7 798.6,175.6 800.7,178.0 802.9,176.9 805.0,177.5 807.2,177.3 809.3,178.3 811.5,177.1 813.7,175.9 815.8,177.7 818.0,176.0 820.0,175.1 822.0,173.6 824.0,175.1 826.0,172.8 828.0,172.9 830.0,173.0 832.1,174.5 834.3,174.4 836.4,172.8 838.6,174.6 840.7,174.9 842.9,175.5 845.0,176.0 847.2,175.5 849.3,177.1 851.5,176.0 853.7,177.0 855.8,177.7 858.0,178.5 860.0,179.9 862.0,177.4 864.0,179.5 866.0,177.9 868.0,179.1 870.0,179.0 872.2,178.7 874.4,178.9 876.6,179.8 878.9,178.7 881.1,177.9 883.3,179.0 885.6,178.0 887.9,178.1 890.1,180.6 892.4,180.1 894.7,181.2 897.0,180.0 899.0,179.8 901.0,177.1 903.0,178.2 905.0,177.0 907.0,177.2 909.0,176.4 911.0,175.1 913.0,174.5 915.0,174.0 917.0,174.2 919.0,175.1 921.0,173.5 923.0,174.2 925.0,174.0 927.3,174.1 929.7,175.8 932.0,175.5 934.4,176.1 936.7,175.0 938.9,175.8 941.1,174.1 943.4,173.7 945.6,174.3 947.8,173.4 950.0,174.0 952.0,174.1 954.0,175.2 956.0,176.3 958.0,175.6 960.0,176.6 962.0,176.0 964.2,175.0 966.3,175.9 968.5,178.0 970.7,175.6 972.8,176.6 975.0,177.0 977.2,175.7 979.4,175.8 981.6,178.2 983.7,178.5 985.9,177.4 988.1,175.9 990.3,177.0 992.6,176.7 994.9,176.9 997.1,178.5 999.4,178.9 1001.7,178.5 1004.0,179.0 1006.0,178.8 1008.0,177.3 1010.0,178.4 1012.0,178.0 1014.0,178.5 1016.0,177.2 1018.0,174.4 1020.0,174.8 1022.0,174.0 1024.0,174.4 1026.0,172.9 1028.0,174.6 1030.0,173.1 1032.0,173.0 1034.3,174.0 1036.6,173.5 1039.0,175.7 1041.3,175.4 1043.6,175.0 1045.7,174.9 1047.7,173.4 1049.8,174.0 1051.8,172.4 1053.9,173.9 1055.9,174.4 1058.0,173.0 1060.0,172.4 1062.0,173.7 1064.0,173.9 1066.0,174.0 1068.0,175.3 1070.0,175.0 1072.2,176.6 1074.3,176.3 1076.5,175.9 1078.7,177.7 1080.8,176.2 1083.0,177.0 1085.1,177.7 1087.1,177.5 1089.2,177.8 1091.2,178.1 1093.3,176.2 1095.3,177.4 1097.4,177.0 1099.5,177.0 1101.6,178.2 1103.7,179.4 1105.8,178.7 1107.9,177.2 1110.0,179.0 1112.0,179.1 1114.0,180.0 1116.0,180.6 1118.0,180.1 1120.0,180.8 1122.0,180.0 1124.2,178.9 1126.5,182.1 1128.8,181.8 1131.0,181.5 1133.2,180.9 1135.5,181.0 1137.8,180.0 1140.0,178.0 1142.1,175.9 1144.2,177.1 1146.3,176.1 1148.4,173.5 1150.5,173.5 1152.6,174.1 1154.7,173.4 1156.8,172.1 1158.8,173.7 1160.9,171.6 1163.0,172.5 1165.2,173.2 1167.5,173.1 1169.8,172.9 1172.0,174.0 1174.0,174.9 1176.0,175.2 1178.0,175.1 1180.0,178.1 1182.0,176.1 1184.0,178.0 1186.2,176.1 1188.4,177.2 1190.6,177.8 1192.8,176.9 1195.0,176.0 1197.3,176.3 1199.7,175.0 1202.1,175.0 1204.4,174.0 1206.7,173.8 1208.9,174.0 1211.2,175.0 1213.5,173.9 1215.7,174.4 1218.0,176.0 1220.0,177.1 1222.0,175.7 1224.0,177.8 1226.0,178.2 1228.0,177.4 1230.0,178.0 1232.1,178.8 1234.3,179.4 1236.4,179.9 1238.6,178.0 1240.7,178.4 1242.9,179.4 1245.0,180.0 1247.1,179.9 1249.2,179.4 1251.3,178.5 1253.5,180.2 1255.6,181.4 1257.7,180.0 1259.8,179.3 1261.8,179.4 1263.8,178.6 1265.9,178.5 1268.0,179.4 1270.0,178.0 1272.0,176.9 1274.0,177.4 1276.0,176.5 1278.0,176.1 1280.0,176.7 1282.0,173.7 1284.0,174.5 1286.0,175.4 1288.0,173.8 1290.0,174.7 1292.0,175.1 1294.0,174.6 1296.0,173.8 1298.0,174.0 1300.2,175.1 1302.3,172.9 1304.5,174.6 1306.7,174.0 1308.8,174.5 1311.0,174.5 1313.0,175.6 1315.0,175.5 1317.0,175.1 1319.0,174.2 1321.0,174.1 1323.0,174.8 1325.0,175.0 1327.1,174.3 1329.3,174.6 1331.4,176.8 1333.6,174.4 1335.7,176.7 1337.9,175.5 1340.0,176.0 1342.0,175.6 1344.0,175.5 1346.0,174.7 1348.0,175.9 1350.0,175.0 1352.0,176.0 1354.1,176.0 1356.2,175.7 1358.3,177.7 1360.4,177.9 1362.5,176.7 1364.6,177.0 1366.8,177.6 1369.1,178.6 1371.3,177.0 1373.5,176.5 1375.8,177.0 1378.0,178.0 1380.0,177.2 1382.0,178.8 1384.0,178.0 1386.0,178.1 1388.0,179.6 1390.0,178.1 1392.0,179.0 1394.2,179.8 1396.3,179.1 1398.5,178.2 1400.7,179.3 1402.8,177.7 1405.0,178.0 1407.2,179.0 1409.3,178.9 1411.5,177.5 1413.7,177.9 1415.8,178.5 1418.0,177.0 1420.0,177.7 1422.0,177.8 1424.0,178.1 1426.0,178.3 1428.0,177.8 1430.0,178.4 1432.0,177.0 1434.2,176.2 1436.3,177.0 1438.5,177.0 1440.7,175.9 1442.8,175.9 1445.0,176.0 1447.2,175.4 1449.3,178.0 1451.5,176.6 1453.7,177.3 1455.8,178.8 1458.0,178.0 1460.2,177.1 1462.4,179.4 1464.7,176.9 1466.9,176.6 1469.1,177.6 1471.3,178.0 1473.6,177.2 1475.9,178.6 1478.2,178.1 1480.4,177.5 1482.7,176.1 1485.0,176.0 1487.0,175.7 1489.0,174.4 1491.0,175.8 1493.0,174.0 1495.0,173.3 1497.0,173.5 1499.2,174.0 1501.3,172.6 1503.5,173.2 1505.7,175.1 1507.8,172.7 1510.0,174.0 1512.1,173.3 1514.3,173.8 1516.4,174.3 1518.6,175.2 1520.7,175.0 1522.9,175.7 1525.0,176.5 1527.2,175.2 1529.3,174.6 1531.5,175.1 1533.7,173.7 1535.8,173.2 1538.0,173.0 1540.0,174.1 1542.0,172.4 1544.0,172.9 1546.0,175.4 1548.0,174.5 1550.0,175.0 1552.0,176.3 1554.0,174.8 1556.0,176.4 1558.0,177.8 1560.0,176.7 1562.0,178.4 1564.0,178.0 1566.0,178.2 1568.1,177.4 1570.1,179.1 1572.1,177.1 1574.1,177.2 1576.2,177.5 1578.2,177.0 1580.5,176.6 1582.8,178.3 1585.1,177.8 1587.4,177.9 1589.7,177.9 1592.0,178.0 1594.2,179.8 1596.3,180.1 1598.5,180.0 1600.7,179.2 1602.8,179.4 1605.0,180.0 1607.2,180.1 1609.3,178.6 1611.5,178.8 1613.7,181.5 1615.8,178.9 1618.0,180.0 1620.0,181.2 1622.0,180.4 1624.0,181.0 1626.0,178.4 1628.0,179.1 1630.0,180.5 1632.0,179.5 1634.0,177.5 1636.0,177.3 1638.0,177.6 1640.0,176.5 1642.0,175.9 1644.0,177.0 1646.0,176.0 1648.0,174.4 1650.0,176.7 1652.0,175.4 1654.0,173.2 1656.0,175.4 1658.0,173.1 1660.0,173.5 1662.0,173.5 1664.0,173.8 1666.0,172.7 1668.0,173.8 1670.0,172.6 1672.0,174.0 1674.3,173.3 1676.5,175.8 1678.8,175.7 1681.1,175.1 1683.3,175.8 1685.6,175.5 1687.7,175.8 1689.9,172.8 1692.0,173.0 1694.0,172.8 1696.0,171.6 1698.0,172.5 1700.0,171.7 1702.0,172.1 1704.0,172.8 1706.0,174.0 1708.0,173.5 1710.0,174.7 1712.0,176.0 1714.0,177.6 1716.0,178.0 1718.0,179.3 1720.0,179.7 1722.0,179.4 1724.0,179.0 1726.0,180.5 1728.0,179.5 1730.1,178.1 1732.2,177.5 1734.2,179.3 1736.3,178.3 1738.4,177.5 1740.7,176.9 1743.0,177.7 1745.4,177.8 1747.7,178.5 1750.0,179.0 1752.0,179.6 1754.0,180.3 1756.0,182.3 1758.0,183.1 1760.0,183.0 1762.5,183.9 1765.0,184.3 1767.5,185.0"/>
<circle cx="297.0" cy="181.5" r="11.5" fill="#f00"/>
<circle cx="348.8" cy="174.5" r="11.5" fill="#f00"/>
<circle cx="401.6" cy="174.6" r="11.5" fill="#f00"/>
<circle cx="455.5" cy="180.0" r="11.5" fill="#f00"/>
<circle cx="508.8" cy="175.0" r="11.5" fill="#f00"/>
<circle cx="562.0" cy="175.0" r="11.5" fill="#f00"/>
<circle cx="615.6" cy="178.4" r="11.5" fill="#f00"/>
<circle cx="669.7" cy="174.0" r="11.5" fill="#f00"/>
<circle cx="722.4" cy="177.3" r="11.5" fill="#f00"/>
<circle cx="776.1" cy="173.8" r="11.5" fill="#f00"/>
<circle cx="830.0" cy="172.0" r="11.5" fill="#f00"/>
<circle cx="883.3" cy="178.7" r="11.5" fill="#f00"/>
<circle cx="936.7" cy="174.9" r="11.5" fill="#f00"/>
<circle cx="990.3" cy="176.7" r="11.5" fill="#f00"/>
<circle cx="1043.6" cy="174.9" r="11.5" fill="#f00"/>
<circle cx="1097.4" cy="176.7" r="11.5" fill="#f00"/>
<circle cx="1150.5" cy="172.8" r="11.5" fill="#f00"/>
<circle cx="1204.4" cy="173.6" r="11.5" fill="#f00"/>
<circle cx="1257.7" cy="179.5" r="11.5" fill="#f00"/>
<circle cx="1311.0" cy="174.4" r="11.5" fill="#f00"/>
<circle cx="1364.6" cy="176.7" r="11.5" fill="#f00"/>
<circle cx="1418.0" cy="176.9" r="11.5" fill="#f00"/>
<circle cx="1471.3" cy="178.0" r="11.5" fill="#f00"/>
<circle cx="1525.0" cy="176.9" r="11.5" fill="#f00"/>
<circle cx="1578.2" cy="176.9" r="11.5" fill="#f00"/>
<circle cx="1632.0" cy="179.5" r="11.5" fill="#f00"/>
<circle cx="1685.6" cy="175.4" r="11.5" fill="#f00"/>
<circle cx="1738.4" cy="177.0" r="11.5" fill="#f00"/>
<polyline fill="none" stroke="#00f" stroke-opacity="0.5" stroke-width="8.6" stroke-linejoin="round" points="297.0,995.5 297.0,993.5 297.0,991.5 297.1,989.5 297.1,987.5 297.1,985.4 297.1,983.4 297.1,981.4 297.2,979.4 297.2,977.4 297.2,975.4 297.2,973.4 297.2,971.4 297.3,969.4 297.3,967.4 297.3,965.3 297.3,963.3 297.3,961.3 297.4,959.3 297.4,957.3 297.4,955.3 297.4,953.3 297.4,951.3 297.5,949.3 297.5,947.3 297.5,945.2 297.5,943.2 297.6,941.2 297.6,939.2 297.6,937.2 297.6,935.2 297.6,933.2 297.7,931.2 297.7,929.2 297.7,927.2 297.7,925.1 297.7,923.1 297.8,921.1 297.8,919.1 297.8,917.1 297.8,915.1 297.8,913.1 297.9,911.1 297.9,909.1 297.9,907.1 297.9,905.0 297.9,903.0 298.0,901.0 298.0,899.0 298.0,897.0 298.0,895.0 298.0,893.0 298.1,891.0 298.1,889.0 298.1,886.9 298.1,884.9 298.1,882.9 298.2,880.9 298.2,878.9 298.2,876.9 298.2,874.9 298.2,872.9 298.3,870.9 298.3,868.9 298.3,866.8 298.3,864.8 298.3,862.8 298.4,860.8 298.4,858.8 298.4,856.8 298.4,854.8 298.4,852.8 298.5,850.8 298.5,848.8 298.5,846.7 298.5,844.7 298.6,842.7 298.6,840.7 298.6,838.7 298.6,836.7 298.6,834.7 298.7,832.7 298.7,830.7 298.7,828.7 298.7,826.6 298.7,824.6 298.8,822.6 298.8,820.6 298.8,818.6 298.8,816.6 298.8,814.6 298.9,812.6 298.9,810.6 298.9,808.6 298.9,806.5 298.9,804.5 299.0,802.5 299.0,800.5 299.0,798.5 299.0,796.5 299.0,794.5 299.1,792.5 299.1,790.5 299.1,788.4 299.1,786.4 299.1,784.4 299.2,782.4 299.2,780.4 299.2,778.4 299.2,776.4 299.2,774.4 299.3,772.4 299.3,770.4 299.3,768.3 299.3,766.3 299.3,764.3 299.4,762.3 299.4,760.3 299.4,758.3 299.4,756.3 299.4,754.3 299.5,752.3 299.5,750.3 299.5,748.2 299.5,746.2 299.6,744.2 299.6,742.2 299.6,740.2 299.6,738.2 299.6,736.2 299.7,734.2 299.7,732.2 299.7,730.2 299.7,728.1 299.7,726.1 299.8,724.1 299.8,722.1 299.8,720.1 299.8,718.1 299.8,716.1 299.9,714.1 299.9,712.1 299.9,710.1 299.9,708.0 299.9,706.0 300.0,704.0 300.0,702.0 300.0,700.0 300.0,698.0 300.0,696.0 300.1,694.0 300.1,692.0 300.1,690.0 300.1,688.0 300.2,686.0 300.2,684.0 300.2,682.0 300.2,680.0 300.3,678.0 300.3,676.0 300.3,674.0 300.3,672.0 300.4,670.0 300.4,668.0 300.4,666.0 300.4,664.0 300.5,662.0 300.5,660.0 300.5,658.0 300.5,656.0 300.6,654.0 300.6,652.0 300.6,650.0 300.6,648.0 300.6,646.0 300.7,644.0 300.7,642.0 300.7,640.0 300.7,638.0 300.8,636.0 300.8,634.0 300.8,632.0 300.8,630.0 300.9,628.0 300.9,626.0 300.9,624.0 300.9,622.0 301.0,620.0 301.0,618.0 301.0,616.0 301.0,614.0 301.1,612.0 301.1,610.0 301.1,608.0 301.1,606.0 301.2,604.0 301.2,602.0 301.2,600.0 301.2,598.0 301.2,596.0 301.3,594.0 301.3,592.0 301.3,590.0 301.3,588.0 301.4,586.0 301.4,584.0 301.4,582.0 301.4,580.0 301.5,578.0 301.5,576.0 301.5,574.0 301.5,572.0 301.6,570.0 301.6,568.0 301.6,566.0 301.6,564.0 301.7,562.0 301.7,560.0 301.7,558.0 301.7,556.0 301.8,554.0 301.8,552.0 301.8,550.0 301.8,548.0 301.8,546.0 301.9,544.0 301.9,542.0 301.9,540.0 301.9,538.0 302.0,536.0 302.0,534.0 302.0,532.0 302.0,530.0 302.1,528.0 302.1,526.0 302.1,524.0 302.1,522.0 302.2,520.0 302.2,518.0 302.2,516.0 302.2,514.0 302.3,512.0 302.3,510.0 302.3,508.0 302.3,506.0 302.4,504.0 302.4,502.0 302.4,500.0 302.4,498.0 302.4,496.0 302.5,494.0 302.5,492.0 302.5,490.0 302.5,488.0 302.6,486.0 302.6,484.0 302.6,482.0 302.6,480.0 302.7,478.0 302.7,476.0 302.7,474.0 302.7,472.0 302.8,470.0 302.8,468.0 302.8,466.0 302.8,464.0 302.9,462.0 302.9,460.0 302.9,458.0 302.9,456.0 303.0,454.0 303.0,452.0 303.0,450.0 303.0,448.0 303.1,446.0 303.1,444.0 303.1,442.0 303.1,440.0 303.1,438.0 303.2,436.0 303.2,434.0 303.2,432.0 303.2,430.0 303.3,428.0 303.3,426.0 303.3,424.0 303.4,422.0 303.4,420.0 303.4,418.0 303.4,416.0 303.4,414.0 303.5,412.0 303.5,410.0 303.5,408.0 303.6,406.0 303.6,404.0 303.6,402.0 303.6,400.0 303.6,398.0 303.7,396.0 303.7,394.0 303.7,392.0 303.8,390.0 303.8,388.0 303.8,386.0 303.8,384.0 303.9,382.0 303.9,380.0 303.9,378.0 303.9,376.0 303.9,374.0 304.0,372.0 304.0,370.0 304.0,368.0 304.1,366.0 304.1,364.0 304.1,362.0 304.1,360.0 304.1,358.0 304.2,356.0 304.2,354.0 304.2,352.0 304.2,350.0 304.3,348.0 304.3,346.0 304.3,344.0 304.4,342.0 304.4,340.0 304.4,338.0 304.4,336.0 304.4,334.0 304.5,332.0 304.5,330.0 304.5,328.0 304.6,326.0 304.6,324.0 304.6,322.0 304.6,320.0 304.6,318.0 304.7,316.0 304.7,314.0 304.7,312.0 304.8,310.0 304.8,308.0 304.8,306.0 304.8,304.0 304.9,302.0 304.9,300.0 304.9,298.0 304.9,296.0 304.9,294.0 305.0,292.0 305.0,290.0 305.0,288.0 305.1,286.0 305.1,284.0 305.1,282.0 305.1,280.0 305.1,278.0 305.2,276.0 305.2,274.0 305.2,272.0 305.2,270.0 305.3,268.0 305.3,266.0 305.3,264.0 305.4,262.0 305.4,260.0 305.4,258.0 305.4,256.0 305.4,254.0 305.5,252.0 305.5,250.0 305.5,248.0 305.6,246.0 305.6,244.0 305.6,242.0 305.6,240.0 305.7,238.0 305.7,236.0 305.7,234.0 305.7,232.0 305.8,230.0 305.8,228.0 305.8,226.0 305.8,224.0 305.9,222.0 305.9,220.0 305.9,218.0 305.9,216.0 306.0,214.0 306.0,212.0 308.0,212.7 310.0,215.0 312.0,214.5 314.0,213.3 316.0,213.0 316.1,210.9 316.2,208.8 316.4,206.6 316.5,204.5 316.6,202.4 316.8,200.2 316.9,198.1 317.0,196.0 318.5,194.3 320.0,192.0 322.0,192.2 324.0,190.3 326.0,189.9 328.0,192.2 330.0,191.0 332.0,190.2 334.0,190.0 336.0,192.2 338.0,190.5 340.0,190.5 342.2,191.4 344.4,190.2 346.6,190.6 348.8,189.1 351.0,190.0 353.2,190.4 355.5,191.1 357.8,190.1 360.0,190.0 363.0,192.0 363.1,194.9 363.2,196.8 363.2,197.2 363.3,201.4 363.4,203.1 363.5,205.0 365.7,204.4 367.8,203.6 370.0,205.0 372.0,205.7 374.0,204.1 376.0,204.5 378.0,204.5 380.0,203.0 382.0,203.1 384.0,203.3 386.0,201.2 388.0,201.9 390.0,200.5 392.0,199.8 394.0,200.8 396.0,200.1 398.0,197.3 400.0,196.9 402.0,196.7 404.0,197.0 406.0,198.0 408.0,196.1 410.0,196.3 412.0,195.0 414.0,195.2 416.0,194.5 418.0,194.5 420.0,193.7 422.0,194.1 424.0,193.8 426.0,194.4 428.0,193.4 430.0,192.5 432.0,193.7 434.0,193.4 436.0,193.7 438.0,192.7 440.0,191.1 442.0,192.0 444.0,192.3 446.0,191.9 448.0,191.0 450.0,189.0 452.4,188.2 454.9,187.6 457.3,186.0 459.4,184.5 461.6,185.8 463.7,184.4 465.9,183.0 468.0,183.0 470.0,181.8 472.0,184.2 474.0,184.7 476.0,182.1 478.0,184.3 480.0,183.5 482.0,183.3 484.0,182.7 486.0,183.2 488.0,184.7 490.0,184.0 492.0,184.7 494.0,181.8 496.0,183.1 498.0,181.0 500.0,182.0 502.2,182.6 504.3,181.3 506.5,182.8 508.6,183.0 510.8,181.5 513.0,181.6 515.2,183.2 517.4,181.2 519.6,180.6 521.8,182.2 524.0,182.0 526.0,180.9 528.0,181.8 530.0,182.7 532.0,183.7 534.0,182.6 536.0,184.0 538.0,183.1 540.0,186.1 542.0,184.9 544.0,187.4 546.0,187.7 548.0,187.0 550.0,186.7 552.0,187.0 554.0,187.2 556.0,187.7 558.0,187.6 560.0,187.6 562.0,187.8 564.0,187.5 566.0,188.7 568.0,187.3 570.0,186.9 572.0,187.7 574.0,186.1 576.0,186.2 578.0,188.1 580.0,186.5 582.0,186.7 584.0,187.0 586.0,185.5 588.0,186.9 590.0,187.6 592.0,187.5 594.2,186.4 596.3,188.5 598.5,188.9 600.7,187.5 602.8,189.5 605.0,189.5 607.2,189.6 609.3,190.4 611.5,189.6 613.7,190.8 615.8,191.0 618.0,190.5 619.6,187.8 621.2,186.6 622.8,187.1 624.4,186.7 626.0,184.0 627.7,181.8 629.3,180.9 631.0,179.5 633.5,181.0 636.0,182.0 638.2,182.0 640.5,182.6 642.8,182.9 645.0,184.0 647.0,183.7 649.0,184.5 651.0,183.7 653.0,184.0 655.0,184.5 657.0,185.7 659.0,183.8 661.0,185.8 663.0,186.0 665.1,187.0 667.2,185.9 669.4,185.9 671.5,187.0 673.4,188.7 675.2,187.7 677.1,188.3 679.0,190.0 680.8,190.8 682.6,192.0 682.6,194.0 682.6,196.0 682.6,198.1 682.6,200.1 682.6,202.1 682.6,204.1 682.6,206.2 682.6,208.2 682.6,210.2 682.6,212.2 682.6,214.2 682.6,216.3 682.6,218.3 682.6,220.3 682.6,222.3 682.6,224.3 682.6,226.4 682.6,228.4 682.6,230.4 682.6,232.4 682.6,234.5 682.6,236.5 682.6,238.5 682.6,240.5 682.6,242.5 682.6,244.6 682.6,246.6 682.6,248.6 682.6,250.6 682.6,252.7 682.6,254.7 682.6,256.7 682.6,258.7 682.6,260.7 682.6,262.8 682.6,264.8 682.6,266.8 682.6,268.8 682.6,270.9 682.6,272.9 682.6,274.9 682.6,276.9 682.6,278.9 682.6,281.0 682.6,283.0 682.6,285.0 682.6,287.0 682.6,289.0 682.6,291.1 682.6,293.1 682.6,295.1 682.6,297.1 682.6,299.2 682.6,301.2 682.6,303.2 682.6,305.2 682.6,307.2 682.6,309.3 682.6,311.3 682.6,313.3 682.6,315.3 682.6,317.4 682.6,319.4 682.6,321.4 682.6,323.4 682.6,325.4 682.6,327.5 682.6,329.5 682.6,331.5 682.6,333.5 682.6,335.5 682.6,337.6 682.6,339.6 682.6,341.6 682.6,343.6 682.6,345.7 682.6,347.7 682.6,349.7 684.6,351.2 686.6,351.5 687.5,352.2 688.4,354.8 689.3,356.8 690.2,360.2 691.1,360.9 692.0,363.0 692.9,366.2 693.8,366.2 694.8,368.8 695.7,371.9 696.6,374.7 697.5,375.6 698.2,377.4 698.9,378.7 699.6,380.4 700.3,383.6 701.0,384.5 701.7,388.4 702.4,390.4 703.1,390.4 703.8,392.7 704.5,396.2 705.2,397.3 705.8,399.7 706.3,402.2 706.9,402.8 707.5,404.1 708.1,406.5 708.6,410.0 709.2,410.4 709.8,412.6 710.4,414.8 710.9,416.8 711.5,419.0 711.7,420.8 712.0,424.4 712.2,424.2 712.4,425.8 712.7,430.7 712.9,432.6 713.1,435.0 713.4,435.4 713.6,437.7 713.6,441.1 713.7,443.1 713.7,443.0 713.7,446.6 713.7,448.9 713.8,450.4 713.8,452.0 715.0,454.1 716.3,455.4 717.5,457.5 718.8,459.2 720.0,462.0 722.1,461.7 724.2,464.0 725.6,466.3 727.1,467.4 728.5,470.0 728.5,472.1 728.5,474.1 728.5,476.2 728.5,478.2 728.5,480.3 728.5,482.3 728.5,484.4 728.5,486.5 728.5,488.5 728.5,490.6 728.5,492.6 728.5,494.7 728.5,496.7 728.5,498.8 730.9,501.3 733.2,502.0 734.9,502.1 736.6,506.2 738.3,507.1 740.0,508.0 741.8,510.9 743.6,512.4 745.4,514.0 747.2,514.4 748.4,516.5 749.7,516.7 750.9,520.7 752.2,520.9 753.4,523.7 757.0,522.5 760.8,522.0 760.8,524.0 760.8,526.1 760.8,528.1 760.8,530.2 760.8,532.2 760.8,534.2 760.8,536.3 760.8,538.3 760.8,540.3 760.8,542.4 760.8,544.4 760.8,546.5 760.8,548.5 761.0,550.6 761.2,552.6 761.4,554.7 761.6,556.8 761.9,558.8 762.1,560.9 762.3,562.9 762.5,565.0 762.8,566.5 763.0,569.7 763.3,571.3 763.5,573.1 763.8,576.7 764.0,577.9 764.3,579.6 764.6,581.3 765.0,583.3 765.3,587.3 765.7,588.3 766.0,591.4 766.4,592.4 766.7,595.0 766.7,597.0 766.7,599.1 766.7,601.1 766.7,603.1 766.7,605.2 766.7,607.2 766.7,609.2 766.7,611.2 766.7,613.3 766.7,615.3 766.7,617.3 766.7,619.4 766.7,621.4 766.7,623.4 766.7,625.5 766.7,627.5 766.7,629.5 766.7,631.5 766.7,633.6 766.7,635.6 766.7,637.6 766.7,639.7 766.7,641.7 767.2,642.9 767.6,645.9 768.1,648.8 768.5,649.0 769.0,652.0 769.8,655.0 770.5,657.5 771.2,659.2 772.0,660.4 772.7,663.3 773.3,662.8 774.0,666.6 774.7,669.2 775.3,668.7 776.0,672.0 776.5,673.3 777.0,675.3 777.4,678.1 777.9,679.8 778.4,681.9 778.8,684.8 779.3,684.5 779.8,688.0 781.6,687.9 783.4,689.4 785.2,690.6 787.0,693.0 789.1,692.5 791.1,695.9 793.2,696.3 795.3,696.0 797.4,695.5 799.6,697.4 801.7,697.5 803.9,698.2 806.0,699.5 808.2,699.6 810.4,701.1 812.6,701.4 814.8,701.3 817.0,702.3 819.0,700.8 821.0,700.6 823.0,699.4 825.0,700.0 827.3,699.5 829.7,699.3 832.0,698.0 834.2,697.5 836.3,696.4 838.5,696.5 840.7,697.0 842.8,697.5 845.0,697.0 847.1,697.7 849.2,696.3 851.2,697.4 853.3,696.7 855.4,696.0 857.5,696.0 859.6,695.8 861.7,696.3 863.8,697.1 865.8,696.4 867.9,697.4 870.0,697.0 872.2,697.1 874.4,696.7 876.6,697.8 878.8,698.4 881.0,696.8 883.2,698.1 885.4,698.5 887.5,698.6 889.6,700.4 891.7,700.9 893.7,699.6 895.8,701.5 897.9,701.5 900.0,701.0 902.2,700.5 904.5,701.3 906.7,700.5 908.9,702.8 911.2,702.6 913.4,702.3 915.7,703.6 918.0,703.5 920.4,703.2 922.7,703.6 925.0,703.0 927.0,703.5 929.0,702.4 931.0,704.1 932.9,702.7 934.9,703.4 936.9,705.5 938.9,705.0 941.1,704.1 943.3,704.8 945.5,705.3 947.6,708.1 949.8,706.5 952.0,708.0 954.0,706.9 956.0,709.6 958.0,707.7 960.0,710.2 962.0,709.9 964.0,710.7 966.0,710.0 968.0,711.5 970.0,710.5 972.0,711.3 974.0,709.2 976.0,711.5 978.0,710.9 980.0,711.0 982.1,711.9 984.3,710.3 986.4,712.5 988.5,713.3 990.7,710.9 992.8,712.5 995.0,712.4 997.2,713.5 999.4,714.7 1001.6,713.4 1003.8,713.6 1006.0,715.0 1008.0,714.6 1010.0,716.0 1012.0,716.8 1014.0,716.0 1016.0,716.3 1018.0,717.0 1020.0,716.8 1022.0,716.7 1024.0,717.0 1026.0,716.0 1028.0,717.4 1030.0,718.8 1032.0,717.5 1034.3,717.6 1036.5,718.9 1038.8,717.5 1041.1,719.4 1043.3,719.9 1045.6,719.5 1047.7,720.2 1049.7,720.0 1051.8,720.1 1053.8,720.8 1055.9,721.8 1057.9,719.7 1060.0,721.0 1062.0,719.9 1064.0,721.9 1066.0,722.5 1068.0,721.4 1070.0,721.2 1072.0,721.5 1074.0,722.2 1076.0,720.7 1078.0,721.0 1080.0,720.9 1082.0,722.1 1084.0,721.4 1086.0,722.0 1088.2,721.4 1090.5,723.1 1092.7,724.1 1094.9,722.4 1097.2,723.9 1099.4,723.5 1101.5,723.8 1103.6,725.7 1105.7,725.5 1107.8,725.1 1109.9,725.6 1112.0,727.0 1114.0,725.7 1116.0,727.2 1118.0,727.1 1120.0,726.6 1122.0,727.3 1124.0,727.3 1126.0,728.0 1128.0,729.0 1130.0,727.2 1132.0,729.9 1134.0,728.5 1136.0,729.0 1138.0,728.8 1140.0,729.0 1142.1,730.3 1144.3,730.5 1146.4,729.9 1148.5,729.9 1150.7,730.9 1152.8,730.5 1155.0,731.7 1157.2,730.4 1159.4,731.5 1161.6,732.2 1163.8,730.8 1166.0,731.0 1168.0,730.5 1170.0,730.8 1172.0,732.5 1174.0,732.7 1176.0,733.8 1178.0,733.8 1180.0,733.0 1182.2,732.6 1184.3,732.9 1186.5,733.5 1188.7,733.7 1190.8,735.7 1193.0,735.5 1195.2,736.7 1197.4,736.9 1199.6,735.0 1201.8,736.9 1204.0,735.4 1206.2,736.0 1208.2,736.2 1210.1,737.6 1212.1,736.1 1214.1,736.6 1216.1,739.3 1218.0,738.1 1220.0,739.2 1222.0,738.5 1224.0,738.8 1226.0,738.8 1228.0,738.0 1230.5,735.9 1233.0,736.2 1235.5,736.0 1238.0,737.3 1240.5,739.0 1240.7,741.1 1240.8,742.5 1241.0,745.8 1241.2,749.0 1241.3,749.5 1241.5,752.0 1241.8,754.1 1242.1,754.9 1242.4,757.3 1242.7,760.5 1243.0,760.8 1243.3,764.0 1243.6,767.2 1243.9,769.2 1244.2,768.8 1244.6,773.3 1244.9,773.6 1245.2,776.8 1245.5,778.0 1245.9,781.0 1246.2,781.8 1246.6,785.1 1246.9,787.3 1247.3,789.0 1247.8,792.0 1248.3,792.4 1248.8,796.0 1249.2,798.7 1249.7,799.9 1250.2,801.5 1250.7,803.5 1251.4,804.4 1252.1,807.6 1252.8,809.2 1253.5,812.4 1254.2,813.8 1254.7,816.3 1255.2,817.9 1255.6,818.7 1256.1,822.1 1256.6,824.0 1257.1,824.6 1257.6,828.7 1258.1,830.0 1258.5,830.3 1259.0,834.7 1259.5,835.4 1260.2,836.4 1260.9,839.1 1261.6,842.4 1262.3,844.2 1263.0,846.0 1263.9,848.2 1264.8,850.5 1265.7,851.9 1266.6,854.1 1267.1,855.5 1267.6,857.1 1268.0,858.8 1268.5,862.7 1269.0,864.8 1269.5,866.0 1270.2,868.1 1270.8,870.7 1271.5,871.5 1272.1,873.2 1272.8,875.9 1274.2,877.8 1275.6,881.4 1277.0,882.5 1278.7,882.6 1280.4,885.4 1282.1,886.8 1284.1,886.6 1286.0,888.7 1288.0,888.0 1290.0,889.0 1292.6,888.8 1295.1,889.3 1297.7,889.9 1299.9,890.3 1302.1,891.2 1304.3,890.1 1306.6,891.9 1308.8,889.9 1311.0,890.6 1313.2,891.5 1315.3,890.5 1317.5,890.8 1319.6,893.1 1321.7,893.2 1323.9,891.8 1326.0,893.0 1328.0,892.1 1330.0,892.7 1332.0,893.7 1334.0,893.9 1336.0,893.7 1338.0,893.0 1340.2,893.1 1342.5,891.7 1344.7,892.3 1346.9,891.5 1349.1,892.4 1351.4,892.3 1353.6,892.0 1355.8,891.2 1357.9,891.4 1360.1,893.1 1362.3,890.9 1364.4,893.3 1366.6,892.5 1368.7,893.0 1370.8,892.6 1372.9,890.3 1375.0,890.0 1376.9,889.5 1378.8,889.0 1380.8,888.5 1382.7,888.9 1384.6,886.8 1386.9,887.2 1389.3,885.8 1391.7,887.3 1394.0,886.0 1396.3,885.8 1398.7,885.9 1401.0,886.1 1403.3,885.2 1405.9,883.2 1408.4,885.0 1411.0,883.7 1411.5,881.8 1412.0,879.0 1412.5,876.8 1413.0,874.2 1413.5,872.0 1413.8,869.0 1414.1,867.9 1414.4,864.3 1414.8,863.6 1415.1,861.9 1415.4,859.2 1415.7,857.3 1416.1,855.2 1416.5,854.2 1417.0,851.7 1417.4,847.2 1417.8,846.0 1418.5,844.4 1419.1,841.4 1419.8,838.6 1420.3,834.9 1420.9,833.5 1421.4,830.8 1422.0,828.1 1422.5,827.0 1423.0,825.1 1423.5,824.2 1424.0,820.4 1424.5,820.0 1425.0,816.9 1425.5,815.4 1426.0,811.6 1426.5,811.7 1427.0,808.8 1427.5,807.7 1428.0,804.9 1428.5,802.9 1429.0,799.6 1429.5,798.0 1430.0,796.9 1430.6,795.2 1431.1,793.0 1431.7,789.6 1432.2,788.5 1432.8,785.7 1433.3,782.5 1433.9,780.3 1434.4,779.6 1435.0,776.3 1435.6,774.6 1436.1,772.4 1436.7,771.3 1437.3,769.8 1437.8,767.3 1438.4,764.8 1439.0,763.0 1439.7,761.4 1440.3,758.3 1441.0,756.7 1441.7,755.5 1442.4,752.3 1443.0,749.6 1443.7,748.5 1444.8,747.5 1445.9,744.8 1447.0,742.0 1449.2,740.2 1451.4,739.2 1453.6,738.6 1455.8,739.0 1458.0,738.7 1460.5,739.0 1462.9,737.8 1465.4,738.6 1466.7,735.3 1468.0,735.0 1469.0,731.6 1470.1,729.9 1470.5,728.8 1471.0,724.9 1471.4,723.8 1471.9,721.0 1472.3,719.1 1472.8,717.0 1473.2,716.0 1473.8,713.7 1474.3,711.0 1474.9,708.6 1475.4,706.8 1476.0,706.0 1477.3,703.0 1478.7,702.0 1480.0,700.0 1482.8,698.1 1485.6,698.8 1485.6,696.7 1485.6,694.5 1485.6,692.4 1485.6,690.2 1485.6,688.1 1485.6,685.9 1485.6,683.8 1485.6,681.6 1485.6,679.5 1485.6,677.3 1485.6,675.2 1485.6,673.0 1485.6,670.9 1487.7,669.1 1489.8,670.0 1491.9,669.6 1494.0,669.5 1496.2,669.7 1498.3,667.3 1500.5,667.9 1502.7,667.8 1503.1,665.5 1503.5,662.4 1503.9,663.3 1504.3,659.1 1504.7,656.7 1505.1,655.9 1505.5,654.0 1505.9,650.8 1506.3,650.0 1506.8,647.1 1507.2,644.2 1507.6,641.8 1508.1,641.7 1508.5,638.2 1508.9,636.7 1509.4,635.6 1509.9,632.7 1510.4,632.1 1510.9,628.2 1511.5,626.1 1512.0,624.2 1512.5,623.9 1513.0,621.4 1513.5,619.0 1514.1,616.5 1514.7,613.7 1515.3,613.4 1515.8,612.2 1516.4,609.0 1517.0,605.1 1517.6,603.2 1518.2,602.5 1518.9,599.4 1519.6,597.7 1520.3,595.4 1521.1,593.5 1521.8,593.4 1522.5,591.0 1523.3,590.3 1524.2,586.2 1525.0,586.6 1525.8,583.1 1526.7,582.2 1527.5,579.3 1528.0,578.3 1528.5,576.2 1529.0,571.3 1529.5,569.8 1530.0,568.5 1530.5,566.0 1531.0,565.0 1531.6,560.2 1532.1,558.5 1532.7,557.8 1533.2,554.5 1533.7,551.3 1534.3,550.0 1534.8,547.8 1535.4,546.8 1535.9,545.4 1536.5,541.1 1537.0,540.0 1537.7,538.5 1538.3,536.2 1539.0,534.3 1539.7,531.2 1540.3,530.1 1541.0,526.6 1542.8,524.4 1544.5,523.0 1546.6,522.2 1548.7,521.9 1550.9,521.1 1553.1,522.7 1555.2,521.8 1557.4,521.2 1559.6,521.9 1560.2,518.9 1560.8,518.6 1561.3,516.3 1561.9,514.6 1562.5,512.0 1563.2,509.6 1563.8,507.8 1564.5,504.8 1565.1,504.4 1565.8,501.7 1566.6,498.1 1567.4,497.3 1568.2,496.0 1569.0,493.0 1570.0,491.3 1571.0,487.3 1572.0,486.2 1575.0,484.0 1577.0,482.8 1578.9,483.1 1578.9,481.1 1578.9,479.1 1578.9,477.1 1578.9,475.0 1578.9,473.0 1578.9,471.0 1578.9,469.0 1578.9,467.0 1578.9,465.0 1578.9,463.0 1578.9,461.0 1578.9,458.9 1578.9,456.9 1578.9,454.9 1578.9,452.9 1578.9,450.9 1578.9,448.9 1578.9,446.9 1578.9,444.8 1578.9,442.8 1578.9,440.8 1578.9,438.8 1578.9,436.8 1578.9,434.8 1578.9,432.8 1578.9,430.7 1578.9,428.7 1578.9,426.7 1578.9,424.7 1578.9,422.7 1578.9,420.7 1578.9,418.7 1578.9,416.7 1578.9,414.6 1578.9,412.6 1578.9,410.6 1578.9,408.6 1578.9,406.6 1578.9,404.6 1578.9,402.6 1578.9,400.5 1578.9,398.5 1578.9,396.5 1578.9,394.5 1578.9,392.5 1578.9,390.5 1578.9,388.5 1578.9,386.4 1578.9,384.4 1578.9,382.4 1578.9,380.4 1578.9,378.4 1578.9,376.4 1578.9,374.4 1578.9,372.4 1578.9,370.3 1578.9,368.3 1578.9,366.3 1578.9,364.3 1578.9,362.3 1578.9,360.3 1578.9,358.3 1578.9,356.2 1578.9,354.2 1578.9,352.2 1578.9,350.2 1578.9,348.2 1578.9,346.2 1578.9,344.2 1578.9,342.1 1578.9,340.1 1578.9,338.1 1578.9,336.1 1578.9,334.1 1578.9,332.1 1578.9,330.1 1578.9,328.1 1578.9,326.0 1578.9,324.0 1578.9,322.0 1578.9,320.0 1580.2,319.3 1581.5,316.9 1582.7,315.9 1584.0,313.0 1585.7,312.8 1587.4,310.2 1589.1,309.1 1591.3,309.6 1593.5,308.5 1595.8,306.7 1598.0,306.5 1600.4,305.6 1602.8,304.2 1605.3,304.6 1607.7,304.4 1609.8,304.3 1611.9,300.3 1614.0,300.0 1615.5,298.6 1617.1,295.6 1618.7,293.9 1620.2,293.6 1621.4,292.4 1622.6,289.5 1623.8,287.3 1625.0,287.0 1625.9,284.2 1626.8,283.8 1627.7,281.9 1628.6,278.3 1629.5,278.0 1630.0,275.2 1630.5,275.4 1631.1,271.2 1631.6,270.2 1632.1,267.8 1632.6,266.8 1633.2,264.3 1633.7,262.9 1634.2,260.0 1634.6,257.9 1635.0,254.7 1635.3,252.5 1635.7,250.1 1636.1,250.1 1636.5,247.0 1637.1,243.5 1637.7,240.9 1638.2,241.4 1638.8,237.7 1639.4,234.7 1640.0,234.6 1640.7,230.1 1641.3,229.1 1641.9,226.3 1642.5,225.0 1643.2,224.0 1643.9,221.3 1644.5,219.3 1645.2,217.7 1645.9,215.9 1646.6,212.8 1647.6,210.2 1648.5,208.9 1649.5,206.5 1651.2,204.5 1652.8,202.9 1655.1,201.1 1657.4,202.7 1659.7,201.4 1662.0,200.5 1664.2,201.3 1666.4,199.3 1668.6,200.2 1670.8,199.8 1673.0,199.8 1675.3,200.1 1677.7,197.7 1680.0,198.5 1682.5,197.4 1685.1,197.1 1687.6,196.5 1689.7,194.6 1691.7,195.5 1693.8,195.5 1695.9,193.9 1697.9,194.0 1700.0,193.0 1702.2,192.7 1704.5,191.0 1706.7,190.8 1708.9,192.2 1711.2,189.6 1713.4,189.5 1715.5,189.0 1717.6,187.6 1719.7,187.7 1721.8,187.2 1723.9,189.1 1726.0,187.5 1728.1,187.9 1730.1,188.1 1732.2,188.1 1734.2,186.7 1736.3,187.4 1738.3,185.9 1740.4,185.5 1742.7,185.0 1745.0,186.2 1747.4,185.8 1749.7,185.6 1752.0,184.0 1754.0,183.6 1756.0,184.0 1758.0,182.5 1760.0,183.9 1762.0,182.0 1764.0,182.8 1766.0,180.4 1768.0,180.5"/>
<polyline fill="none" stroke="#00f" stroke-opacity="0.7" stroke-width="8.6" stroke-linejoin="bevel" stroke-dasharray="2.4 0.6" points="297.0,995.5 297.0,993.5 297.0,991.5 297.1,989.5 297.1,987.5 297.1,985.4 297.1,983.4 297.1,981.4 297.2,979.4 297.2,977.4 297.2,975.4 297.2,973.4 297.2,971.4 297.3,969.4 297.3,967.4 297.3,965.3 297.3,963.3 297.3,961.3 297.4,959.3 297.4,957.3 297.4,955.3 297.4,953.3 297.4,951.3 297.5,949.3 297.5,947.3 297.5,945.2 297.5,943.2 297.6,941.2 297.6,939.2 297.6,937.2 297.6,935.2 297.6,933.2 297.7,931.2 297.7,929.2 297.7,927.2 297.7,925.1 297.7,923.1 297.8,921.1 297.8,919.1 297.8,917.1 297.8,915.1 297.8,913.1 297.9,911.1 297.9,909.1 297.9,907.1 297.9,905.0 297.9,903.0 298.0,901.0 298.0,899.0 298.0,897.0 298.0,895.0 298.0,893.0 298.1,891.0 298.1,889.0 298.1,886.9 298.1,884.9 298.1,882.9 298.2,880.9 298.2,878.9 298.2,876.9 298.2,874.9 298.2,872.9 298.3,870.9 298.3,868.9 298.3,866.8 298.3,864.8 298.3,862.8 298.4,860.8 298.4,858.8 298.4,856.8 298.4,854.8 298.4,852.8 298.5,850.8 298.5,848.8 298.5,846.7 298.5,844.7 298.6,842.7 298.6,840.7 298.6,838.7 298.6,836.7 298.6,834.7 298.7,832.7 298.7,830.7 298.7,828.7 298.7,826.6 298.7,824.6 298.8,822.6 298.8,820.6 298.8,818.6 298.8,816.6 298.8,814.6 298.9,812.6 298.9,810.6 298.9,808.6 298.9,806.5 298.9,804.5 299.0,802.5 299.0,800.5 299.0,798.5 299.0,796.5 299.0,794.5 299.1,792.5 299.1,790.5 299.1,788.4 299.1,786.4 299.1,784.4 299.2,782.4 299.2,780.4 299.2,778.4 299.2,776.4 299.2,774.4 299.3,772.4 299.3,770.4 299.3,768.3 299.3,766.3 299.3,764.3 299.4,762.3 299.4,760.3 299.4,758.3 299.4,756.3 299.4,754.3 299.5,752.3 299.5,750.3 299.5,748.2 299.5,746.2 299.6,744.2 299.6,742.2 299.6,740.2 299.6,738.2 299.6,736.2 299.7,734.2 299.7,732.2 299.7,730.2 299.7,728.1 299.7,726.1 299.8,724.1 299.8,722.1 299.8,720.1 299.8,718.1 299.8,716.1 299.9,714.1 299.9,712.1 299.9,710.1 299.9,708.0 299.9,706.0 300.0,704.0 300.0,702.0 300.0,700.0 300.0,698.0 300.0,696.0 300.1,694.0 300.1,692.0 300.1,690.0 300.1,688.0 300.2,686.0 300.2,684.0 300.2,682.0 300.2,680.0 300.3,678.0 300.3,676.0 300.3,674.0 300.3,672.0 300.4,670.0 300.4,668.0 300.4,666.0 300.4,664.0 300.5,662.0 300.5,660.0 300.5,658.0 300.5,656.0 300.6,654.0 300.6,652.0 300.6,650.0 300.6,648.0 300.6,646.0 300.7,644.0 300.7,642.0 300.7,640.0 300.7,638.0 300.8,636.0 300.8,634.0 300.8,632.0 300.8,630.0 300.9,628.0 300.9,626.0 300.9,624.0 300.9,622.0 301.0,620.0 301.0,618.0 301.0,616.0 301.0,614.0 301.1,612.0 301.1,610.0 301.1,608.0 301.1,606.0 301.2,604.0 301.2,602.0 301.2,600.0 301.2,598.0 301.2,596.0 301.3,594.0 301.3,592.0 301.3,590.0 301.3,588.0 301.4,586.0 301.4,584.0 301.4,582.0 301.4,580.0 301.5,578.0 301.5,576.0 301.5,574.0 301.5,572.0 301.6,570.0 301.6,568.0 301.6,566.0 301.6,564.0 301.7,562.0 301.7,560.0 301.7,558.0 301.7,556.0 301.8,554.0 301.8,552.0 301.8,550.0 301.8,548.0 301.8,546.0 301.9,544.0 301.9,542.0 301.9,540.0 301.9,538.0 302.0,536.0 302.0,534.0 302.0,532.0 302.0,530.0 302.1,528.0 302.1,526.0 302.1,524.0 302.1,522.0 302.2,520.0 302.2,518.0 302.2,516.0 302.2,514.0 302.3,512.0 302.3,510.0 302.3,508.0 302.3,506.0 302.4,504.0 302.4,502.0 302.4,500.0 302.4,498.0 302.4,496.0 302.5,494.0 302.5,492.0 302.5,490.0 302.5,488.0 302.6,486.0 302.6,484.0 302.6,482.0 302.6,480.0 302.7,478.0 302.7,476.0 302.7,474.0 302.7,472.0 302.8,470.0 302.8,468.0 302.8,466.0 302.8,464.0 302.9,462.0 302.9,460.0 302.9,458.0 302.9,456.0 303.0,454.0 303.0,452.0 303.0,450.0 303.0,448.0 303.1,446.0 303.1,444.0 303.1,442.0 303.1,440.0 303.1,438.0 303.2,436.0 303.2,434.0 303.2,432.0 303.2,430.0 303.3,428.0 303.3,426.0 303.3,424.0 303.4,422.0 303.4,420.0 303.4,418.0 303.4,416.0 303.4,414.0 303.5,412.0 303.5,410.0 303.5,408.0 303.6,406.0 303.6,404.0 303.6,402.0 303.6,400.0 303.6,398.0 303.7,396.0 303.7,394.0 303.7,392.0 303.8,390.0 303.8,388.0 303.8,386.0 303.8,384.0 303.9,382.0 303.9,380.0 303.9,378.0 303.9,376.0 303.9,374.0 304.0,372.0 304.0,370.0 304.0,368.0 304.1,366.0 304.1,364.0 304.1,362.0 304.1,360.0 304.1,358.0 304.2,356.0 304.2,354.0 304.2,352.0 304.2,350.0 304.3,348.0 304.3,346.0 304.3,344.0 304.4,342.0 304.4,340.0 304.4,338.0 304.4,336.0 304.4,334.0 304.5,332.0 304.5,330.0 304.5,328.0 304.6,326.0 304.6,324.0 304.6,322.0 304.6,320.0 304.6,318.0 304.7,316.0 304.7,314.0 304.7,312.0 304.8,310.0 304.8,308.0 304.8,306.0 304.8,304.0 304.9,302.0 304.9,300.0 304.9,298.0 304.9,296.0 304.9,294.0 305.0,292.0 305.0,290.0 305.0,288.0 305.1,286.0 305.1,284.0 305.1,282.0 305.1,280.0 305.1,278.0 305.2,276.0 305.2,274.0 305.2,272.0 305.2,270.0 305.3,268.0 305.3,266.0 305.3,264.0 305.4,262.0 305.4,260.0 305.4,258.0 305.4,256.0 305.4,254.0 305.5,252.0 305.5,250.0 305.5,248.0 305.6,246.0 305.6,244.0 305.6,242.0 305.6,240.0 305.7,238.0 305.7,236.0 305.7,234.0 305.7,232.0 305.8,230.0 305.8,228.0 305.8,226.0 305.8,224.0 305.9,222.0 305.9,220.0 305.9,218.0 305.9,216.0 306.0,214.0 306.0,212.0 308.0,212.7 310.0,215.0 312.0,214.5 314.0,213.3 316.0,213.0 316.1,210.9 316.2,208.8 316.4,206.6 316.5,204.5 316.6,202.4 316.8,200.2 316.9,198.1 317.0,196.0 318.5,194.3 320.0,192.0 322.0,192.2 324.0,190.3 326.0,189.9 328.0,192.2 330.0,191.0 332.0,190.2 334.0,190.0 336.0,192.2 338.0,190.5 340.0,190.5 342.2,191.4 344.4,190.2 346.6,190.6 348.8,189.1 351.0,190.0 353.2,190.4 355.5,191.1 357.8,190.1 360.0,190.0 363.0,192.0 363.1,194.9 363.2,196.8 363.2,197.2 363.3,201.4 363.4,203.1 363.5,205.0 365.7,204.4 367.8,203.6 370.0,205.0 372.0,205.7 374.0,204.1 376.0,204.5 378.0,204.5 380.0,203.0 382.0,203.1 384.0,203.3 386.0,201.2 388.0,201.9 390.0,200.5 392.0,199.8 394.0,200.8 396.0,200.1 398.0,197.3 400.0,196.9 402.0,196.7 404.0,197.0 406.0,198.0 408.0,196.1 410.0,196.3 412.0,195.0 414.0,195.2 416.0,194.5 418.0,194.5 420.0,193.7 422.0,194.1 424.0,193.8 426.0,194.4 428.0,193.4 430.0,192.5 432.0,193.7 434.0,193.4 436.0,193.7 438.0,192.7 440.0,191.1 442.0,192.0 444.0,192.3 446.0,191.9 448.0,191.0 450.0,189.0 452.4,188.2 454.9,187.6 457.3,186.0 459.4,184.5 461.6,185.8 463.7,184.4 465.9,183.0 468.0,183.0 470.0,181.8 472.0,184.2 474.0,184.7 476.0,182.1 478.0,184.3 480.0,183.5 482.0,183.3 484.0,182.7 486.0,183.2 488.0,184.7 490.0,184.0 492.0,184.7 494.0,181.8 496.0,183.1 498.0,181.0 500.0,182.0 502.2,182.6 504.3,181.3 506.5,182.8 508.6,183.0 510.8,181.5 513.0,181.6 515.2,183.2 517.4,181.2 519.6,180.6 521.8,182.2 524.0,182.0 526.0,180.9 528.0,181.8 530.0,182.7 532.0,183.7 534.0,182.6 536.0,184.0 538.0,183.1 540.0,186.1 542.0,184.9 544.0,187.4 546.0,187.7 548.0,187.0 550.0,186.7 552.0,187.0 554.0,187.2 556.0,187.7 558.0,187.6 560.0,187.6 562.0,187.8 564.0,187.5 566.0,188.7 568.0,187.3 570.0,186.9 572.0,187.7 574.0,186.1 576.0,186.2 578.0,188.1 580.0,186.5 582.0,186.7 584.0,187.0 586.0,185.5 588.0,186.9 590.0,187.6 592.0,187.5 594.2,186.4 596.3,188.5 598.5,188.9 600.7,187.5 602.8,189.5 605.0,189.5 607.2,189.6 609.3,190.4 611.5,189.6 613.7,190.8 615.8,191.0 618.0,190.5 619.6,187.8 621.2,186.6 622.8,187.1 624.4,186.7 626.0,184.0 627.7,181.8 629.3,180.9 631.0,179.5 633.5,181.0 636.0,182.0 638.2,182.0 640.5,182.6 642.8,182.9 645.0,184.0 647.0,183.7 649.0,184.5 651.0,183.7 653.0,184.0 655.0,184.5 657.0,185.7 659.0,183.8 661.0,185.8 663.0,186.0 665.1,187.0 667.2,185.9 669.4,185.9 671.5,187.0 673.4,188.7 675.2,187.7 677.1,188.3 679.0,190.0 680.8,190.8 682.6,192.0 682.6,194.0 682.6,196.0 682.6,198.1 682.6,200.1 682.6,202.1 682.6,204.1 682.6,206.2 682.6,208.2 682.6,210.2 682.6,212.2 682.6,214.2 682.6,216.3 682.6,218.3 682.6,220.3 682.6,222.3 682.6,224.3 682.6,226.4 682.6,228.4 682.6,230.4 682.6,232.4 682.6,234.5 682.6,236.5 682.6,238.5 682.6,240.5 682.6,242.5 682.6,244.6 682.6,246.6 682.6,248.6 682.6,250.6 682.6,252.7 682.6,254.7 682.6,256.7 682.6,258.7 682.6,260.7 682.6,262.8 682.6,264.8 682.6,266.8 682.6,268.8 682.6,270.9 682.6,272.9 682.6,274.9 682.6,276.9 682.6,278.9 682.6,281.0 682.6,283.0 682.6,285.0 682.6,287.0 682.6,289.0 682.6,291.1 682.6,293.1 682.6,295.1 682.6,297.1 682.6,299.2 682.6,301.2 682.6,303.2 682.6,305.2 682.6,307.2 682.6,309.3 682.6,311.3 682.6,313.3 682.6,315.3 682.6,317.4 682.6,319.4 682.6,321.4 682.6,323.4 682.6,325.4 682.6,327.5 682.6,329.5 682.6,331.5 682.6,333.5 682.6,335.5 682.6,337.6 682.6,339.6 682.6,341.6 682.6,343.6 682.6,345.7 682.6,347.7 682.6,349.7 684.6,351.2 686.6,351.5 687.5,352.2 688.4,354.8 689.3,356.8 690.2,360.2 691.1,360.9 692.0,363.0 692.9,366.2 693.8,366.2 694.8,368.8 695.7,371.9 696.6,374.7 697.5,375.6 698.2,377.4 698.9,378.7 699.6,380.4 700.3,383.6 701.0,384.5 701.7,388.4 702.4,390.4 703.1,390.4 703.8,392.7 704.5,396.2 705.2,397.3 705.8,399.7 706.3,402.2 706.9,402.8 707.5,404.1 708.1,406.5 708.6,410.0 709.2,410.4 709.8,412.6 710.4,414.8 710.9,416.8 711.5,419.0 711.7,420.8 712.0,424.4 712.2,424.2 712.4,425.8 712.7,430.7 712.9,432.6 713.1,435.0 713.4,435.4 713.6,437.7 713.6,441.1 713.7,443.1 713.7,443.0 713.7,446.6 713.7,448.9 713.8,450.4 713.8,452.0 715.0,454.1 716.3,455.4 717.5,457.5 718.8,459.2 720.0,462.0 722.1,461.7 724.2,464.0 725.6,466.3 727.1,467.4 728.5,470.0 728.5,472.1 728.5,474.1 728.5,476.2 728.5,478.2 728.5,480.3 728.5,482.3 728.5,484.4 728.5,486.5 728.5,488.5 728.5,490.6 728.5,492.6 728.5,494.7 728.5,496.7 728.5,498.8 730.9,501.3 733.2,502.0 734.9,502.1 736.6,506.2 738.3,507.1 740.0,508.0 741.8,510.9 743.6,512.4 745.4,514.0 747.2,514.4 748.4,516.5 749.7,516.7 750.9,520.7 752.2,520.9 753.4,523.7 757.0,522.5 760.8,522.0 760.8,524.0 760.8,526.1 760.8,528.1 760.8,530.2 760.8,532.2 760.8,534.2 760.8,536.3 760.8,538.3 760.8,540.3 760.8,542.4 760.8,544.4 760.8,546.5 760.8,548.5 761.0,550.6 761.2,552.6 761.4,554.7 761.6,556.8 761.9,558.8 762.1,560.9 762.3,562.9 762.5,565.0 762.8,566.5 763.0,569.7 763.3,571.3 763.5,573.1 763.8,576.7 764.0,577.9 764.3,579.6 764.6,581.3 765.0,583.3 765.3,587.3 765.7,588.3 766.0,591.4 766.4,592.4 766.7,595.0 766.7,597.0 766.7,599.1 766.7,601.1 766.7,603.1 766.7,605.2 766.7,607.2 766.7,609.2 766.7,611.2 766.7,613.3 766.7,615.3 766.7,617.3 766.7,619.4 766.7,621.4 766.7,623.4 766.7,625.5 766.7,627.5 766.7,629.5 766.7,631.5 766.7,633.6 766.7,635.6 766.7,637.6 766.7,639.7 766.7,641.7 767.2,642.9 767.6,645.9 768.1,648.8 768.5,649.0 769.0,652.0 769.8,655.0 770.5,657.5 771.2,659.2 772.0,660.4 772.7,663.3 773.3,662.8 774.0,666.6 774.7,669.2 775.3,668.7 776.0,672.0 776.5,673.3 777.0,675.3 777.4,678.1 777.9,679.8 778.4,681.9 778.8,684.8 779.3,684.5 779.8,688.0 781.6,687.9 783.4,689.4 785.2,690.6 787.0,693.0 789.1,692.5 791.1,695.9 793.2,696.3 795.3,696.0 797.4,695.5 799.6,697.4 801.7,697.5 803.9,698.2 806.0,699.5 808.2,699.6 810.4,701.1 812.6,701.4 814.8,701.3 817.0,702.3 819.0,700.8 821.0,700.6 823.0,699.4 825.0,700.0 827.3,699.5 829.7,699.3 832.0,698.0 834.2,697.5 836.3,696.4 838.5,696.5 840.7,697.0 842.8,697.5 845.0,697.0 847.1,697.7 849.2,696.3 851.2,697.4 853.3,696.7 855.4,696.0 857.5,696.0 859.6,695.8 861.7,696.3 863.8,697.1 865.8,696.4 867.9,697.4 870.0,697.0 872.2,697.1 874.4,696.7 876.6,697.8 878.8,698.4 881.0,696.8 883.2,698.1 885.4,698.5 887.5,698.6 889.6,700.4 891.7,700.9 893.7,699.6 895.8,701.5 897.9,701.5 900.0,701.0 902.2,700.5 904.5,701.3 906.7,700.5 908.9,702.8 911.2,702.6 913.4,702.3 915.7,703.6 918.0,703.5 920.4,703.2 922.7,703.6 925.0,703.0 927.0,703.5 929.0,702.4 931.0,704.1 932.9,702.7 934.9,703.4 936.9,705.5 938.9,705.0 941.1,704.1 943.3,704.8 945.5,705.3 947.6,708.1 949.8,706.5 952.0,708.0 954.0,706.9 956.0,709.6 958.0,707.7 960.0,710.2 962.0,709.9 964.0,710.7 966.0,710.0 968.0,711.5 970.0,710.5 972.0,711.3 974.0,709.2 976.0,711.5 978.0,710.9 980.0,711.0 982.1,711.9 984.3,710.3 986.4,712.5 988.5,713.3 990.7,710.9 992.8,712.5 995.0,712.4 997.2,713.5 999.4,714.7 1001.6,713.4 1003.8,713.6 1006.0,715.0 1008.0,714.6 1010.0,716.0 1012.0,716.8 1014.0,716.0 1016.0,716.3 1018.0,717.0 1020.0,716.8 1022.0,716.7 1024.0,717.0 1026.0,716.0 1028.0,717.4 1030.0,718.8 1032.0,717.5 1034.3,717.6 1036.5,718.9 1038.8,717.5 1041.1,719.4 1043.3,719.9 1045.6,719.5 1047.7,720.2 1049.7,720.0 1051.8,720.1 1053.8,720.8 1055.9,721.8 1057.9,719.7 1060.0,721.0 1062.0,719.9 1064.0,721.9 1066.0,722.5 1068.0,721.4 1070.0,721.2 1072.0,721.5 1074.0,722.2 1076.0,720.7 1078.0,721.0 1080.0,720.9 1082.0,722.1 1084.0,721.4 1086.0,722.0 1088.2,721.4 1090.5,723.1 1092.7,724.1 1094.9,722.4 1097.2,723.9 1099.4,723.5 1101.5,723.8 1103.6,725.7 1105.7,725.5 1107.8,725.1 1109.9,725.6 1112.0,727.0 1114.0,725.7 1116.0,727.2 1118.0,727.1 1120.0,726.6 1122.0,727.3 1124.0,727.3 1126.0,728.0 1128.0,729.0 1130.0,727.2 1132.0,729.9 1134.0,728.5 1136.0,729.0 1138.0,728.8 1140.0,729.0 1142.1,730.3 1144.3,730.5 1146.4,729.9 1148.5,729.9 1150.7,730.9 1152.8,730.5 1155.0,731.7 1157.2,730.4 1159.4,731.5 1161.6,732.2 1163.8,730.8 1166.0,731.0 1168.0,730.5 1170.0,730.8 1172.0,732.5 1174.0,732.7 1176.0,733.8 1178.0,733.8 1180.0,733.0 1182.2,732.6 1184.3,732.9 1186.5,733.5 1188.7,733.7 1190.8,735.7 1193.0,735.5 1195.2,736.7 1197.4,736.9 1199.6,735.0 1201.8,736.9 1204.0,735.4 1206.2,736.0 1208.2,736.2 1210.1,737.6 1212.1,736.1 1214.1,736.6 1216.1,739.3 1218.0,738.1 1220.0,739.2 1222.0,738.5 1224.0,738.8 1226.0,738.8 1228.0,738.0 1230.5,735.9 1233.0,736.2 1235.5,736.0 1238.0,737.3 1240.5,739.0 1240.7,741.1 1240.8,742.5 1241.0,745.8 1241.2,749.0 1241.3,749.5 1241.5,752.0 1241.8,754.1 1242.1,754.9 1242.4,757.3 1242.7,760.5 1243.0,760.8 1243.3,764.0 1243.6,767.2 1243.9,769.2 1244.2,768.8 1244.6,773.3 1244.9,773.6 1245.2,776.8 1245.5,778.0 1245.9,781.0 1246.2,781.8 1246.6,785.1 1246.9,787.3 1247.3,789.0 1247.8,792.0 1248.3,792.4 1248.8,796.0 1249.2,798.7 1249.7,799.9 1250.2,801.5 1250.7,803.5 1251.4,804.4 1252.1,807.6 1252.8,809.2 1253.5,812.4 1254.2,813.8 1254.7,816.3 1255.2,817.9 1255.6,818.7 1256.1,822.1 1256.6,824.0 1257.1,824.6 1257.6,828.7 1258.1,830.0 1258.5,830.3 1259.0,834.7 1259.5,835.4 1260.2,836.4 1260.9,839.1 1261.6,842.4 1262.3,844.2 1263.0,846.0 1263.9,848.2 1264.8,850.5 1265.7,851.9 1266.6,854.1 1267.1,855.5 1267.6,857.1 1268.0,858.8 1268.5,862.7 1269.0,864.8 1269.5,866.0 1270.2,868.1 1270.8,870.7 1271.5,871.5 1272.1,873.2 1272.8,875.9 1274.2,877.8 1275.6,881.4 1277.0,882.5 1278.7,882.6 1280.4,885.4 1282.1,886.8 1284.1,886.6 1286.0,888.7 1288.0,888.0 1290.0,889.0 1292.6,888.8 1295.1,889.3 1297.7,889.9 1299.9,890.3 1302.1,891.2 1304.3,890.1 1306.6,891.9 1308.8,889.9 1311.0,890.6 1313.2,891.5 1315.3,890.5 1317.5,890.8 1319.6,893.1 1321.7,893.2 1323.9,891.8 1326.0,893.0 1328.0,892.1 1330.0,892.7 1332.0,893.7 1334.0,893.9 1336.0,893.7 1338.0,893.0 1340.2,893.1 1342.5,891.7 1344.7,892.3 1346.9,891.5 1349.1,892.4 1351.4,892.3 1353.6,892.0 1355.8,891.2 1357.9,891.4 1360.1,893.1 1362.3,890.9 1364.4,893.3 1366.6,892.5 1368.7,893.0 1370.8,892.6 1372.9,890.3 1375.0,890.0 1376.9,889.5 1378.8,889.0 1380.8,888.5 1382.7,888.9 1384.6,886.8 1386.9,887.2 1389.3,885.8 1391.7,887.3 1394.0,886.0 1396.3,885.8 1398.7,885.9 1401.0,886.1 1403.3,885.2 1405.9,883.2 1408.4,885.0 1411.0,883.7 1411.5,881.8 1412.0,879.0 1412.5,876.8 1413.0,874.2 1413.5,872.0 1413.8,869.0 1414.1,867.9 1414.4,864.3 1414.8,863.6 1415.1,861.9 1415.4,859.2 1415.7,857.3 1416.1,855.2 1416.5,854.2 1417.0,851.7 1417.4,847.2 1417.8,846.0 1418.5,844.4 1419.1,841.4 1419.8,838.6 1420.3,834.9 1420.9,833.5 1421.4,830.8 1422.0,828.1 1422.5,827.0 1423.0,825.1 1423.5,824.2 1424.0,820.4 1424.5,820.0 1425.0,816.9 1425.5,815.4 1426.0,811.6 1426.5,811.7 1427.0,808.8 1427.5,807.7 1428.0,804.9 1428.5,802.9 1429.0,799.6 1429.5,798.0 1430.0,796.9 1430.6,795.2 1431.1,793.0 1431.7,789.6 1432.2,788.5 1432.8,785.7 1433.3,782.5 1433.9,780.3 1434.4,779.6 1435.0,776.3 1435.6,774.6 1436.1,772.4 1436.7,771.3 1437.3,769.8 1437.8,767.3 1438.4,764.8 1439.0,763.0 1439.7,761.4 1440.3,758.3 1441.0,756.7 1441.7,755.5 1442.4,752.3 1443.0,749.6 1443.7,748.5 1444.8,747.5 1445.9,744.8 1447.0,742.0 1449.2,740.2 1451.4,739.2 1453.6,738.6 1455.8,739.0 1458.0,738.7 1460.5,739.0 1462.9,737.8 1465.4,738.6 1466.7,735.3 1468.0,735.0 1469.0,731.6 1470.1,729.9 1470.5,728.8 1471.0,724.9 1471.4,723.8 1471.9,721.0 1472.3,719.1 1472.8,717.0 1473.2,716.0 1473.8,713.7 1474.3,711.0 1474.9,708.6 1475.4,706.8 1476.0,706.0 1477.3,703.0 1478.7,702.0 1480.0,700.0 1482.8,698.1 1485.6,698.8 1485.6,696.7 1485.6,694.5 1485.6,692.4 1485.6,690.2 1485.6,688.1 1485.6,685.9 1485.6,683.8 1485.6,681.6 1485.6,679.5 1485.6,677.3 1485.6,675.2 1485.6,673.0 1485.6,670.9 1487.7,669.1 1489.8,670.0 1491.9,669.6 1494.0,669.5 1496.2,669.7 1498.3,667.3 1500.5,667.9 1502.7,667.8 1503.1,665.5 1503.5,662.4 1503.9,663.3 1504.3,659.1 1504.7,656.7 1505.1,655.9 1505.5,654.0 1505.9,650.8 1506.3,650.0 1506.8,647.1 1507.2,644.2 1507.6,641.8 1508.1,641.7 1508.5,638.2 1508.9,636.7 1509.4,635.6 1509.9,632.7 1510.4,632.1 1510.9,628.2 1511.5,626.1 1512.0,624.2 1512.5,623.9 1513.0,621.4 1513.5,619.0 1514.1,616.5 1514.7,613.7 1515.3,613.4 1515.8,612.2 1516.4,609.0 1517.0,605.1 1517.6,603.2 1518.2,602.5 1518.9,599.4 1519.6,597.7 1520.3,595.4 1521.1,593.5 1521.8,593.4 1522.5,591.0 1523.3,590.3 1524.2,586.2 1525.0,586.6 1525.8,583.1 1526.7,582.2 1527.5,579.3 1528.0,578.3 1528.5,576.2 1529.0,571.3 1529.5,569.8 1530.0,568.5 1530.5,566.0 1531.0,565.0 1531.6,560.2 1532.1,558.5 1532.7,557.8 1533.2,554.5 1533.7,551.3 1534.3,550.0 1534.8,547.8 1535.4,546.8 1535.9,545.4 1536.5,541.1 1537.0,540.0 1537.7,538.5 1538.3,536.2 1539.0,534.3 1539.7,531.2 1540.3,530.1 1541.0,526.6 1542.8,524.4 1544.5,523.0 1546.6,522.2 1548.7,521.9 1550.9,521.1 1553.1,522.7 1555.2,521.8 1557.4,521.2 1559.6,521.9 1560.2,518.9 1560.8,518.6 1561.3,516.3 1561.9,514.6 1562.5,512.0 1563.2,509.6 1563.8,507.8 1564.5,504.8 1565.1,504.4 1565.8,501.7 1566.6,498.1 1567.4,497.3 1568.2,496.0 1569.0,493.0 1570.0,491.3 1571.0,487.3 1572.0,486.2 1575.0,484.0 1577.0,482.8 1578.9,483.1 1578.9,481.1 1578.9,479.1 1578.9,477.1 1578.9,475.0 1578.9,473.0 1578.9,471.0 1578.9,469.0 1578.9,467.0 1578.9,465.0 1578.9,463.0 1578.9,461.0 1578.9,458.9 1578.9,456.9 1578.9,454.9 1578.9,452.9 1578.9,450.9 1578.9,448.9 1578.9,446.9 1578.9,444.8 1578.9,442.8 1578.9,440.8 1578.9,438.8 1578.9,436.8 1578.9,434.8 1578.9,432.8 1578.9,430.7 1578.9,428.7 1578.9,426.7 1578.9,424.7 1578.9,422.7 1578.9,420.7 1578.9,418.7 1578.9,416.7 1578.9,414.6 1578.9,412.6 1578.9,410.6 1578.9,408.6 1578.9,406.6 1578.9,404.6 1578.9,402.6 1578.9,400.5 1578.9,398.5 1578.9,396.5 1578.9,394.5 1578.9,392.5 1578.9,390.5 1578.9,388.5 1578.9,386.4 1578.9,384.4 1578.9,382.4 1578.9,380.4 1578.9,378.4 1578.9,376.4 1578.9,374.4 1578.9,372.4 1578.9,370.3 1578.9,368.3 1578.9,366.3 1578.9,364.3 1578.9,362.3 1578.9,360.3 1578.9,358.3 1578.9,356.2 1578.9,354.2 1578.9,352.2 1578.9,350.2 1578.9,348.2 1578.9,346.2 1578.9,344.2 1578.9,342.1 1578.9,340.1 1578.9,338.1 1578.9,336.1 1578.9,334.1 1578.9,332.1 1578.9,330.1 1578.9,328.1 1578.9,326.0 1578.9,324.0 1578.9,322.0 1578.9,320.0 1580.2,319.3 1581.5,316.9 1582.7,315.9 1584.0,313.0 1585.7,312.8 1587.4,310.2 1589.1,309.1 1591.3,309.6 1593.5,308.5 1595.8,306.7 1598.0,306.5 1600.4,305.6 1602.8,304.2 1605.3,304.6 1607.7,304.4 1609.8,304.3 1611.9,300.3 1614.0,300.0 1615.5,298.6 1617.1,295.6 1618.7,293.9 1620.2,293.6 1621.4,292.4 1622.6,289.5 1623.8,287.3 1625.0,287.0 1625.9,284.2 1626.8,283.8 1627.7,281.9 1628.6,278.3 1629.5,278.0 1630.0,275.2 1630.5,275.4 1631.1,271.2 1631.6,270.2 1632.1,267.8 1632.6,266.8 1633.2,264.3 1633.7,262.9 1634.2,260.0 1634.6,257.9 1635.0,254.7 1635.3,252.5 1635.7,250.1 1636.1,250.1 1636.5,247.0 1637.1,243.5 1637.7,240.9 1638.2,241.4 1638.8,237.7 1639.4,234.7 1640.0,234.6 1640.7,230.1 1641.3,229.1 1641.9,226.3 1642.5,225.0 1643.2,224.0 1643.9,221.3 1644.5,219.3 1645.2,217.7 1645.9,215.9 1646.6,212.8 1647.6,210.2 1648.5,208.9 1649.5,206.5 1651.2,204.5 1652.8,202.9 1655.1,201.1 1657.4,202.7 1659.7,201.4 1662.0,200.5 1664.2,201.3 1666.4,199.3 1668.6,200.2 1670.8,199.8 1673.0,199.8 1675.3,200.1 1677.7,197.7 1680.0,198.5 1682.5,197.4 1685.1,197.1 1687.6,196.5 1689.7,194.6 1691.7,195.5 1693.8,195.5 1695.9,193.9 1697.9,194.0 1700.0,193.0 1702.2,192.7 1704.5,191.0 1706.7,190.8 1708.9,192.2 1711.2,189.6 1713.4,189.5 1715.5,189.0 1717.6,187.6 1719.7,187.7 1721.8,187.2 1723.9,189.1 1726.0,187.5 1728.1,187.9 1730.1,188.1 1732.2,188.1 1734.2,186.7 1736.3,187.4 1738.3,185.9 1740.4,185.5 1742.7,185.0 1745.0,186.2 1747.4,185.8 1749.7,185.6 1752.0,184.0 1754.0,183.6 1756.0,184.0 1758.0,182.5 1760.0,183.9 1762.0,182.0 1764.0,182.8 1766.0,180.4 1768.0,180.5"/>
<line x1="297.0" y1="995.5" x2="300.0" y2="700.0" stroke="#00f" stroke-width="8" stroke-linecap="butt"/>
<line x1="300.0" y1="700.0" x2="303.0" y2="450.0" stroke="#00f" stroke-width="8" stroke-linecap="butt"/>
<line x1="303.0" y1="450.0" x2="305.5" y2="250.0" stroke="#00f" stroke-width="8" stroke-linecap="butt"/>
<line x1="305.5" y1="250.0" x2="306.0" y2="212.0" stroke="#00f" stroke-width="8" stroke-linecap="butt"/>
<line x1="316.0" y1="213.0" x2="317.0" y2="196.0" stroke="#00f" stroke-width="8" stroke-linecap="butt"/>
<line x1="682.6" y1="192.0" x2="682.6" y2="349.7" stroke="#00f" stroke-width="8" stroke-linecap="butt"/>
<line x1="728.5" y1="470.0" x2="728.5" y2="498.8" stroke="#00f" stroke-width="8" stroke-linecap="butt"/>
<line x1="760.8" y1="522.0" x2="760.8" y2="548.5" stroke="#00f" stroke-width="8" stroke-linecap="butt"/>
<line x1="760.8" y1="548.5" x2="762.5" y2="565.0" stroke="#00f" stroke-width="8" stroke-linecap="butt"/>
<line x1="766.7" y1="595.0" x2="766.7" y2="641.7" stroke="#00f" stroke-width="8" stroke-linecap="butt"/>
<line x1="1485.6" y1="698.8" x2="1485.6" y2="670.9" stroke="#00f" stroke-width="8" stroke-linecap="butt"/>
<line x1="1578.9" y1="483.1" x2="1578.9" y2="320.0" stroke="#00f" stroke-width="8" stroke-linecap="butt"/>
<polygon points="297.0,976.4 280.5,1005.1 313.5,1005.1" fill="#00f"/>
<polygon points="351.0,170.5 334.5,199.2 367.5,199.2" fill="#00f"/>
<polygon points="404.0,174.4 387.5,203.1 420.5,203.1" fill="#00f"/>
<polygon points="457.3,166.2 440.8,194.9 473.8,194.9" fill="#00f"/>
<polygon points="510.8,162.4 494.3,191.1 527.3,191.1" fill="#00f"/>
<polygon points="564.0,167.9 547.5,196.6 580.5,196.6" fill="#00f"/>
<polygon points="618.0,171.9 601.5,200.6 634.5,200.6" fill="#00f"/>
<polygon points="671.5,166.9 655.0,195.6 688.0,195.6" fill="#00f"/>
<polygon points="724.2,444.7 707.7,473.4 740.7,473.4" fill="#00f"/>
<polygon points="778.2,658.4 761.7,687.1 794.7,687.1" fill="#00f"/>
<polygon points="832.0,675.4 815.5,704.1 848.5,704.1" fill="#00f"/>
<polygon points="885.4,675.4 868.9,704.1 901.9,704.1" fill="#00f"/>
<polygon points="938.9,683.1 922.4,711.8 955.4,711.8" fill="#00f"/>
<polygon points="992.8,691.2 976.3,719.9 1009.3,719.9" fill="#00f"/>
<polygon points="1045.6,698.1 1029.1,726.8 1062.1,726.8" fill="#00f"/>
<polygon points="1099.4,702.7 1082.9,731.4 1115.9,731.4" fill="#00f"/>
<polygon points="1152.8,709.9 1136.3,738.6 1169.3,738.6" fill="#00f"/>
<polygon points="1206.2,715.2 1189.7,743.9 1222.7,743.9" fill="#00f"/>
<polygon points="1259.5,816.3 1243.0,845.0 1276.0,845.0" fill="#00f"/>
<polygon points="1313.2,872.4 1296.7,901.1 1329.7,901.1" fill="#00f"/>
<polygon points="1366.6,876.9 1350.1,905.6 1383.1,905.6" fill="#00f"/>
<polygon points="1419.8,819.5 1403.3,848.2 1436.3,848.2" fill="#00f"/>
<polygon points="1473.2,696.9 1456.7,725.6 1489.7,725.6" fill="#00f"/>
<polygon points="1527.5,560.2 1511.0,588.9 1544.0,588.9" fill="#00f"/>
<polygon points="1580.4,300.9 1563.9,329.6 1596.9,329.6" fill="#00f"/>
<polygon points="1634.2,240.9 1617.7,269.6 1650.7,269.6" fill="#00f"/>
<polygon points="1688.0,175.7 1671.5,204.4 1704.5,204.4" fill="#00f"/>
<polygon points="1741.0,166.1 1724.5,194.8 1757.5,194.8" fill="#00f"/>
</g>
<line x1="684.8" y1="88.8" x2="684.8" y2="1148" stroke="#992b66" stroke-width="2" stroke-linecap="round" stroke-dasharray="10.4 8.5"/>
<line x1="1234.7" y1="98.2" x2="1234.7" y2="1148" stroke="#992b66" stroke-width="2" stroke-linecap="round" stroke-dasharray="10.4 8.5"/>
<line x1="1402.5" y1="88.8" x2="1402.5" y2="1148" stroke="#992b66" stroke-width="2" stroke-linecap="round" stroke-dasharray="10.4 8.5"/>
<text class="tk" transform="translate(273.5,1179.8) scale(1,1.03)" text-anchor="end">0</text>
<text class="tk" transform="translate(273.5,962.8) scale(1,1.03)" text-anchor="end">400</text>
<text class="tk" transform="translate(273.5,745.8) scale(1,1.03)" text-anchor="end">800</text>
<text class="tk" transform="translate(273.5,528.8) scale(1,1.03)" text-anchor="end">1200</text>
<text class="tk" transform="translate(273.5,311.8) scale(1,1.03)" text-anchor="end">1600</text>
<text class="tk" transform="translate(273.5,94.8) scale(1,1.03)" text-anchor="end">2000</text>
<text class="tk" transform="translate(297.0,1241.3) scale(1,1.03)" text-anchor="middle">0</text>
<text class="tk" transform="translate(564.5,1241.3) scale(1,1.03)" text-anchor="middle">10</text>
<text class="tk" transform="translate(832.0,1241.3) scale(1,1.03)" text-anchor="middle">20</text>
<text class="tk" transform="translate(1099.5,1241.3) scale(1,1.03)" text-anchor="middle">30</text>
<text class="tk" transform="translate(1367.0,1241.3) scale(1,1.03)" text-anchor="middle">40</text>
<text class="tk" transform="translate(1634.5,1241.3) scale(1,1.03)" text-anchor="middle">50</text>
<text class="ax" y="1315" xml:space="preserve"><tspan x="909">Time  </tspan><tspan x="1146.8" font-style="italic">t </tspan><tspan x="1197.4">/ </tspan><tspan x="1246">s</tspan></text>
<text class="ax" transform="translate(88,0) rotate(-90)" y="0" xml:space="preserve"><tspan x="-981.7">Motor </tspan><tspan x="-727.1">speed  </tspan><tspan x="-470.7">/ </tspan><tspan x="-424.9">rpm</tspan></text>
<line x1="1541" y1="703.0" x2="1692.5" y2="703.0" stroke="#000" stroke-width="8.2"/>
<rect x="1603.7" y="690.0" width="21.4" height="21.4" fill="#000"/>
<text class="lg" y="726.3" xml:space="preserve"><tspan x="1703.7" style="letter-spacing:-0.5px">AISCS </tspan><tspan x="1947.7" style="letter-spacing:-0.7px">without </tspan><tspan x="2207.0" style="letter-spacing:-0.4px">HA</tspan></text>
<line x1="1541" y1="785.9" x2="1692.5" y2="785.9" stroke="#f00" stroke-width="8.2"/>
<circle cx="1614.4" cy="783.8" r="11.7" fill="#f00"/>
<text class="lg" y="809.0" xml:space="preserve"><tspan x="1700.9" style="letter-spacing:1.1px">No </tspan><tspan x="1819.7" style="letter-spacing:-0.5px">AISCS</tspan></text>
<line x1="1541" y1="869.2" x2="1692.5" y2="869.2" stroke="#00f" stroke-width="8.2"/>
<polygon points="1616.4,849.5 1598.9,878.9 1633.3,878.9" fill="#00f"/>
<text class="lg" y="893.1" xml:space="preserve"><tspan x="1703.7" style="letter-spacing:-0.5px">AISCS </tspan><tspan x="1947.6" style="letter-spacing:-0.4px">with </tspan><tspan x="2106.2" style="letter-spacing:-0.4px">HA</tspan></text>
</svg></body></html>
